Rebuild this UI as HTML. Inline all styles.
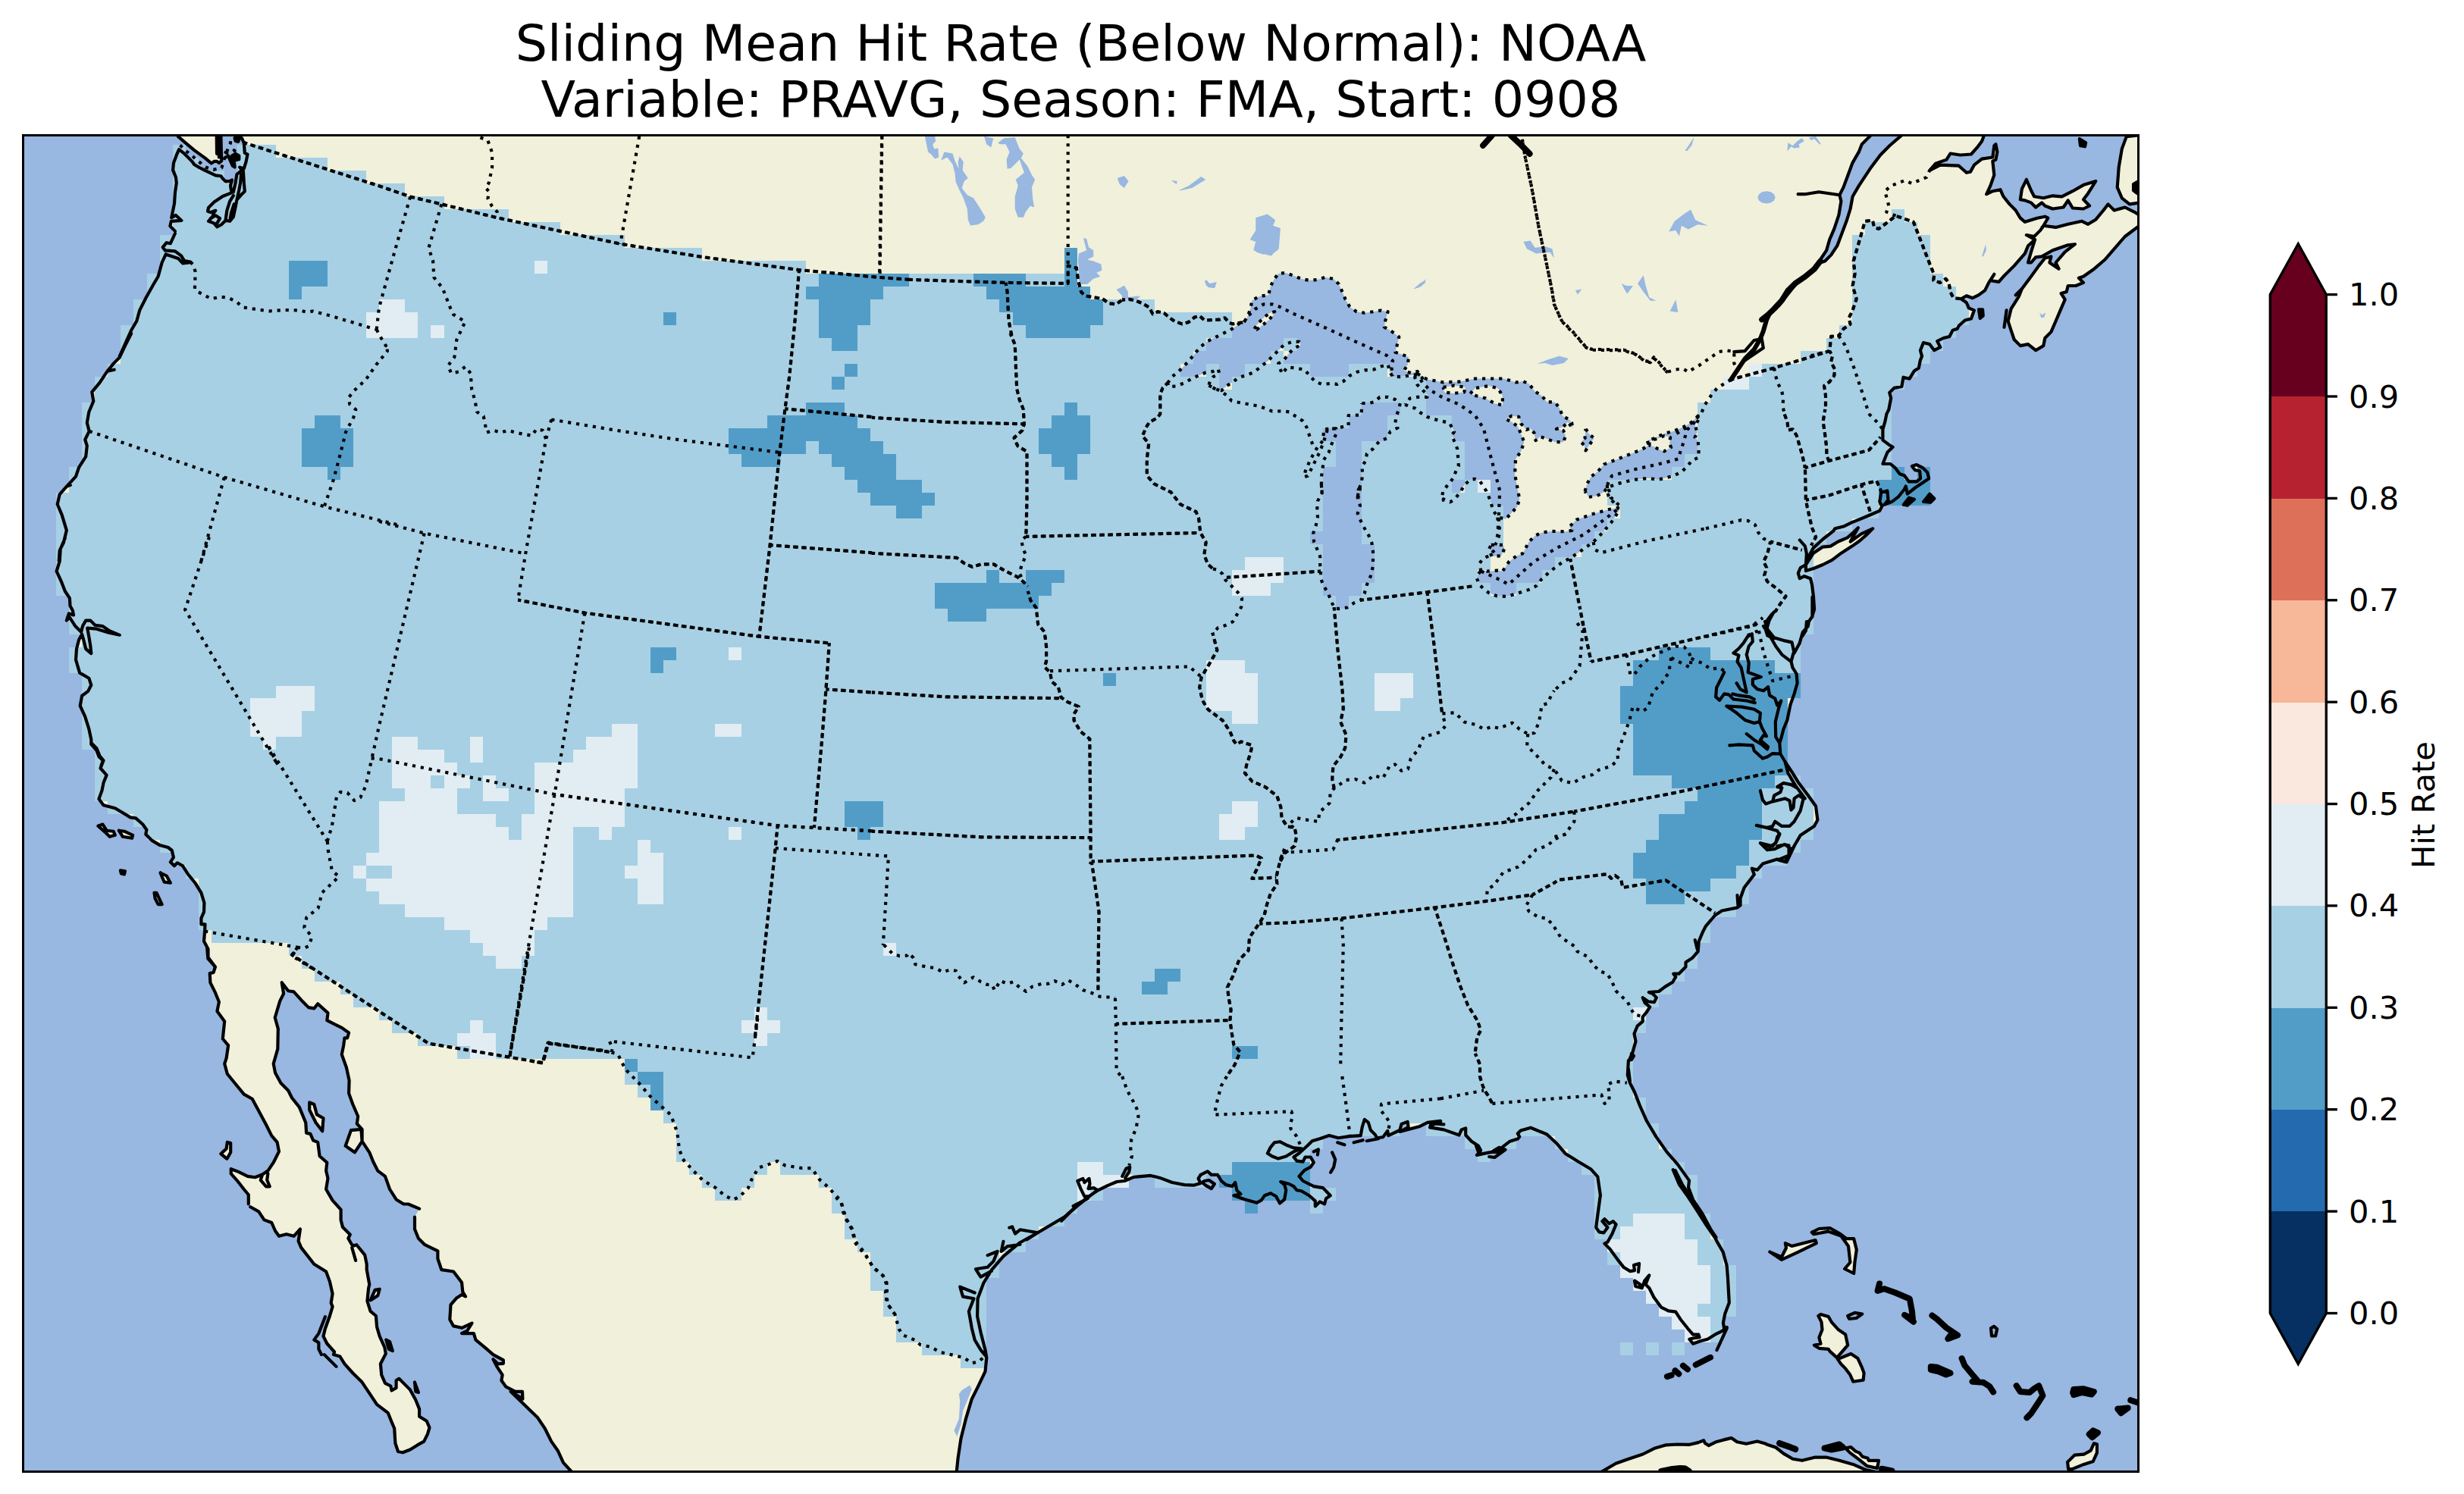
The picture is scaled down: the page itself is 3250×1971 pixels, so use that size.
<!DOCTYPE html>
<html lang="en"><head><meta charset="utf-8"><title>Sliding Mean Hit Rate (Below Normal): NOAA</title>
<style>
html,body{margin:0;padding:0;background:#fff;}
body{width:3250px;height:1971px;overflow:hidden;position:relative;font-family:"DejaVu Sans","Liberation Sans",sans-serif;color:#000;}
svg{position:absolute;left:0;top:0;}
text{font-family:"DejaVu Sans","Liberation Sans",sans-serif;fill:#000;}
.c{fill:none;stroke:#000;stroke-width:4.17;stroke-linejoin:round;stroke-linecap:round;}
.b{fill:none;stroke:#000;stroke-width:4.17;stroke-dasharray:4.17 6.88;stroke-linejoin:round;}
.b2{fill:none;stroke:#000;stroke-width:4.17;stroke-dasharray:4.17 6.88;stroke-dashoffset:2.6;stroke-linejoin:round;}
.o{fill:#98b7e1;stroke:none;}
.l{fill:#f0f0db;stroke:none;}
.k{fill:#000;stroke:#000;stroke-width:4.17;stroke-linejoin:round;stroke-linecap:round;}
</style></head><body>
<svg xmlns="http://www.w3.org/2000/svg" width="3250" height="1971" viewBox="0 0 3250 1971">
<defs><clipPath id="ax"><rect x="30.5" y="178.5" width="2790.0" height="1763.0"/></clipPath></defs>
<rect x="0" y="0" width="3250" height="1971" fill="#fff"/>
<g clip-path="url(#ax)">
<rect x="30.5" y="178.5" width="2790.0" height="1763.0" fill="#f0f0db"/>
<path class="o" d="M25.5,173.5 234.7,173.5 234.7,179.8 244,187.8 256.2,198.1 270.3,208.4 278.7,215.4 282.5,212.9 286.2,212.9 289,215 292.3,212.2 291.8,198.1 291.4,179.8 291.4,173.5 310.6,173.5 310.6,179.8 319,182.2 321.8,188.7 321.8,188.7 322.8,201.9 326.5,203.7 324.6,213.1 321.8,222.5 316.2,220.6 320.9,226.2 321.8,241.2 322.8,252.5 318.1,257.1 312.4,263.7 310.6,273.1 307.8,286.2 303.1,291.8 297.5,290.9 291.8,296.5 286.2,299.3 282.5,294.6 275,291.8 280.6,285.3 281.5,281.5 284.3,277.8 277.8,280.1 274,278.7 275,274 282.5,266.5 293.7,259 307.8,253.4 305,251.5 304,245 305.9,237.5 305.9,237.5 303.1,238.9 297.5,239.3 293.7,235.6 291.4,232.3 284.3,231.4 273.1,226.2 262.8,221.1 256.2,216.9 253.4,213.1 248.7,208.4 242.2,201.9 236.1,197.2 236.1,197.2 232.8,204.7 229,215 228.1,224.4 231.9,233.7 232.8,241.2 230.9,254.3 230,268.4 227.2,282.4 226.2,287.1 231.9,283.9 239.4,290.9 225.8,291.8 224.4,298.4 230.9,304.9 230.9,308 224.8,321.2 219.7,320.2 214.7,326.2 217.7,330.3 217.7,330.3 230.9,331.3 239,337.4 243.1,344.1 251.2,345.5 251.2,346.1 241,347.4 235,340.9 218.7,335.4 218.7,335.4 213.6,346.5 208.6,364.8 202.5,375 192.3,393.2 184.2,409.4 180.2,423.7 173.1,435.8 157.8,469.9 173.1,440 163.9,458.3 157.8,471.5 149.7,479.6 141.6,489.7 131.5,504.9 121.3,517.1 123.3,529.3 117.3,543.5 114.8,557.7 117.7,568.9 112.2,580 114.8,588.1 113.2,602.3 104.1,616.5 100,628.7 87.8,641.9 78.7,652.1 75.7,665.2 81.7,679.4 87.8,699.7 83.8,716 78.7,726.1 77.7,739.9 85.8,710 79.7,724.2 78.7,740.4 74.6,753.6 80.7,766.8 85.8,780 91.9,789.1 92.5,799.3 95.9,805.4 97,811.5 90.9,809.4 87.8,818.6 91.9,814.5 99,825.7 107.1,833.8 107.1,833.8 109.1,825.7 113.2,818.6 119.3,818.6 125.4,824.7 135.5,826.1 143.6,831.8 157.8,837.8 143.6,834.8 127.4,829.7 115.2,828.7 117.3,839.9 119.3,852 120.3,862.2 113.2,856.1 110.2,843.9 108.1,836.8 108.1,836.8 104.1,843.9 101,856.1 100,870.3 105.1,887.6 117.3,894.7 120.3,903.8 116.2,911.9 108.1,918 105.7,931.2 112.2,945.4 117.3,961.6 120.3,975.8 120.3,981.9 127.4,990 130.4,998.1 135.9,1003.2 133.5,1009.9 120.3,980 127.4,987.1 131.5,997.2 136.5,1003.3 132.5,1013.5 140.6,1022.6 136.5,1032.8 134.5,1042.9 130.4,1054.1 136.5,1062.2 151.8,1066.2 161.9,1072.3 172,1078.4 179.1,1079.4 188.3,1087.5 193.4,1094.7 192.3,1100.7 200.5,1108.9 210.6,1114.9 221.8,1118 226.8,1122 228.9,1131.2 224.8,1137.3 229.9,1142.3 233.9,1138.3 241,1142.3 248.1,1153.5 257.3,1164.7 265.4,1177.8 269.4,1191 269,1203.2 265.4,1211.3 265.4,1219.4 270.5,1219.4 270.1,1228.6 270.1,1228.6 269,1241.8 274.5,1251.9 274.5,1263.1 283.7,1275.3 282.6,1279.9 273.1,1250 274.3,1264.6 284,1275.6 281.6,1282.9 276.7,1284.1 277.4,1296.3 284,1309.7 288.9,1321.8 286.4,1334 296.2,1347.4 293.8,1370.5 301.1,1379.1 298.6,1396.1 296.2,1403.4 299.8,1416.8 310.8,1430.2 321.8,1443.6 332.7,1449.7 341.2,1465.5 351,1483.8 358.3,1498.4 365.6,1506.9 368,1519.1 360.7,1533.7 353.4,1544.6 346.1,1549.5 336.4,1553.2 326.6,1551.9 314.4,1545.9 304.7,1542.2 304.7,1548.3 313.2,1558 321.8,1569 327.8,1576.3 327.8,1588.5 330.3,1592.3 341.2,1598.4 348.5,1609.4 358.3,1613 363.1,1624 368,1630.8 377.8,1628.3 387.5,1630.8 396,1621.5 393.6,1637.4 397.2,1645.9 414.3,1667.8 430.1,1677.5 435,1690.9 438.6,1706.8 436.7,1718.9 438.6,1723.8 435,1736 428.9,1753 426.5,1762.8 431.3,1772.5 441.1,1783.5 439.9,1787.1 448.4,1789.5 454.5,1799.3 465.4,1811.5 477.6,1823.6 487.3,1838.2 497.1,1852.9 511.7,1863.8 516.6,1876 520.2,1884.5 521.4,1904 525.1,1915 531.2,1916.2 540.9,1912.5 550.6,1906.4 559.2,1901.6 564,1891.8 566.5,1883.3 562.8,1874.8 553.1,1868.7 553.1,1858.9 548.2,1846.8 540.9,1833.4 532.4,1824.9 526.3,1818.8 522.6,1821.2 522.6,1830.9 516.6,1834.6 515.3,1828.5 508,1824.9 503.2,1813.9 501.9,1799.3 508.8,1785.9 507.3,1777.4 500.7,1762.8 497.1,1750.6 495.9,1736 488.6,1729.9 484.4,1716.5 486.1,1699.4 487.3,1694.6 483.7,1675.1 483.7,1667.8 481.2,1655.6 470.3,1642.2 466.6,1643.4 464.2,1642.2 459.3,1633.7 461.8,1628.8 452,1619.1 449.6,1609.4 449.6,1597.2 449.6,1595.8 438.6,1583.6 430.1,1569 432.5,1554.4 430.1,1544.6 431.3,1533.7 421.6,1525.2 419.2,1506.9 413.1,1504.5 409.4,1495.9 404.1,1494.7 403.3,1481.3 394.8,1460.6 385.1,1448.5 380.2,1438.7 370.5,1429 363.1,1415.6 360.7,1403.4 366.3,1383.9 366.8,1357.1 362.7,1342.5 369.2,1320.6 374.1,1310.9 371.7,1296.3 371.7,1296.3 380.2,1307.2 387.5,1308.4 399.7,1321.8 407,1329.1 414.3,1330.4 419.2,1324.3 432.5,1336.4 431.3,1346.2 441.1,1351.1 450.8,1355.9 460.1,1362.5 458.1,1369.3 454.5,1369.3 453.2,1379.1 450.8,1391.2 456.9,1408.3 460.6,1425.3 460.1,1442.4 465.4,1457 472.2,1472.8 470.8,1482.5 477.6,1489.9 477.6,1505.7 487.3,1520.3 492.2,1532.5 498.3,1544.6 508,1551.9 514.1,1569 522.6,1582.4 532.4,1588.5 538.5,1588.5 553.1,1594.6 547,1605.7 547,1621.5 551.9,1633.7 560.4,1642.2 577.4,1650.3 577.4,1660.5 582.3,1675.1 598.1,1677.5 609.1,1692.1 610.3,1704.3 614,1710.4 609.1,1708 601.8,1712.8 594.5,1721.4 593.3,1740.8 598.1,1749.4 609.1,1751.8 622.5,1745.7 616.4,1755.5 609.1,1759.1 624.9,1759.1 627.4,1767.6 640.7,1778.6 650.5,1787.1 663.9,1794.4 663.9,1798.8 656.6,1799.3 650.5,1793.2 655.4,1802.9 662.7,1813.9 661.4,1821.2 667.5,1829.7 679.7,1835.8 689,1835.8 689.4,1845.6 673.6,1835.8 708.9,1869.9 718.7,1884.5 727.2,1901.6 735.7,1913.7 743,1929.6 754,1941.7 759,1946.5 25.5,1946.5Z"/>
<path class="o" d="M1261.6,1946.5 1261.6,1943.1 1263.6,1923.6 1267.5,1897.7 1274,1871.7 1281.8,1845.7 1289.6,1830.1 1299.5,1809.4 1301.3,1791.2 1301.3,1791.2 1299.5,1780.8 1293.5,1757.4 1289.1,1736.6 1289.6,1713.2 1297.4,1692.5 1307.8,1675.6 1323.4,1657.4 1345.5,1639.2 1368.8,1626.2 1403.9,1605.5 1415.6,1595.1 1445.5,1571.7 1460.9,1564.1 1473.1,1559 1483.2,1558 1495.4,1552.9 1517.7,1550.9 1529.9,1553.9 1546.1,1560 1562.3,1563.1 1574.5,1563.7 1583.6,1561 1580.6,1554.9 1583.6,1549.9 1592.8,1545.4 1597.8,1549.9 1606,1549.9 1611,1558 1617.1,1563.1 1625.2,1565.1 1629.3,1560 1631.3,1570.2 1636.4,1575.2 1627.3,1577.3 1641.5,1582.3 1657.7,1586.8 1663.8,1583.4 1667.9,1577.3 1676,1574.2 1683.1,1578.3 1688.1,1587.4 1694.2,1582.3 1696.3,1570.2 1694.2,1563.1 1689.2,1559 1700.3,1562 1706.4,1565.1 1710.5,1570.2 1716.6,1571.2 1726.7,1577.3 1734.8,1584.4 1734.8,1591.5 1740.9,1585.4 1747,1588.4 1749,1581.3 1754.7,1577.3 1745,1567.1 1732.8,1565.1 1718.6,1558 1713.5,1551.9 1720.6,1543.8 1728.7,1539.7 1732.8,1533.6 1728.7,1526.5 1721.6,1526.5 1718.6,1532.6 1710.5,1531.6 1706.4,1526.5 1713.5,1521.5 1724.7,1511.3 1730.8,1505.2 1740.9,1502.2 1753.1,1498.1 1765.3,1501.2 1779.5,1499.1 1794.7,1498.1 1796.7,1487 1799.8,1476.8 1804.8,1480.9 1807.9,1491 1814,1497.1 1816,1501.2 1824.1,1500.2 1830.2,1492 1831.2,1498.1 1846.4,1491 1848.5,1482.9 1856.6,1479.9 1857.6,1487 1846.4,1493.1 1872.8,1485.9 1883,1480.9 1900,1478.8 1900.3,1479.3 1888.1,1480.3 1886.1,1487.4 1904.4,1490.4 1924.6,1497.5 1927.7,1490.4 1933.2,1488.4 1933.2,1497.5 1940.9,1505.7 1950,1511.8 1953.1,1517.8 1948,1523.9 1957.1,1521.9 1967.3,1519.9 1975.4,1519.9 1983.5,1511.8 1991.6,1505.7 2001.8,1502.6 2004.2,1499.6 2001.8,1495.5 2005.8,1491.5 2019,1487.8 2040.3,1496.5 2052.5,1507.7 2064.7,1521.9 2080.9,1532 2098.1,1542.2 2107.3,1552.3 2110.9,1576.7 2107.3,1603.1 2105.2,1619.3 2109.3,1625.4 2115.4,1626.4 2120.5,1619.3 2113.4,1611.2 2116.4,1608.1 2122.5,1614.2 2127.6,1611.2 2131.6,1615.2 2126.6,1627.4 2120.5,1638.6 2116.4,1640.6 2123.5,1647.7 2133.7,1661.9 2141.8,1672.1 2149.9,1677.1 2156,1676.1 2155,1669 2162.1,1667 2161,1678.1 2163.3,1694.5 2156,1689.6 2157.2,1696.9 2165.7,1699.3 2169.3,1689.6 2175.3,1682.4 2170.5,1694.5 2175.3,1699.3 2181.3,1711.3 2191,1724.6 2200.6,1729.4 2210.2,1730.6 2216.3,1740.2 2225.9,1752.3 2233.1,1760.7 2240.4,1760.7 2241.6,1764.3 2233.1,1765.5 2228.3,1766.7 2233.1,1772.8 2242.8,1769.2 2252.4,1766.7 2262,1760.7 2271.7,1755.9 2277.7,1751.1 2277.7,1751.1 2274.1,1752.3 2272.9,1745.1 2275.3,1733 2280.8,1718.6 2278.9,1684.8 2277.7,1670 2272.7,1651.8 2264.5,1637.6 2257.4,1623.4 2245.3,1601 2233.1,1582.8 2227,1566.5 2228,1557.4 2212.8,1536.1 2198.6,1519.9 2184.4,1499.6 2172.2,1479.3 2163.1,1459 2156,1440.7 2149.9,1428.6 2146.8,1418.4 2147.9,1399.1 2151.9,1398.1 2155,1393 2151.9,1390 2148.4,1399.9 2153.5,1388.1 2157.5,1373.9 2155.5,1363.8 2159.6,1353.7 2166.7,1347.6 2166.7,1341.5 2171.8,1335.4 2176.2,1328.3 2169.7,1323.2 2166.7,1316.1 2173.8,1321.2 2181.9,1322.2 2184.9,1316.1 2179.9,1311 2174.8,1309 2188,1308 2196.1,1301.9 2206.2,1295.8 2210.3,1288.7 2207.3,1284.7 2214.4,1284.7 2223.5,1275.5 2223.5,1269.4 2232.6,1263.4 2239.7,1255.2 2240.7,1242 2245.8,1229.9 2249.9,1221.8 2262.1,1207.5 2271.2,1201.5 2291.5,1197.4 2295.5,1194.4 2295.5,1185.2 2300.6,1171 2313.8,1153.8 2310.8,1145.7 2317.9,1147.7 2325,1139.6 2344.2,1133.5 2354.4,1136.5 2359.5,1128.4 2359.5,1128.4 2367.6,1114.2 2374.7,1102.1 2392.9,1089.9 2397.4,1081.8 2395,1063.5 2384.8,1049.3 2372.6,1033.1 2362.5,1016.8 2354.4,1004.7 2348.3,994.5 2348.3,994.5 2347.3,980.3 2347.3,980.3 2349.3,974.2 2352.4,962 2357.4,949.9 2361.5,929.6 2366.6,915.4 2370.6,901.2 2369.6,889 2364.5,880.9 2362.5,872.8 2365.5,861.6 2365.5,861.6 2366.6,861.6 2366.6,861.6 2373.7,848.4 2377.7,834.2 2384.8,826.1 2385.8,820 2385.8,820 2390,813.9 2393.1,803.8 2392,787.6 2390,771.3 2388,763.2 2379.9,760.2 2373.8,763.2 2371.8,756.1 2374.8,749 2381.9,745 2382.9,738.9 2392,722.6 2404.2,711.5 2418.4,700.3 2420.5,697.3 2432.6,694.2 2442.8,689.1 2452.9,685.1 2465.1,680 2479.3,673.9 2482.3,667.8 2479.3,661.8 2481.3,649.6 2489.4,647.5 2490.5,659.7 2485.4,665.8 2495.5,661.8 2503.7,655.7 2511.8,645.5 2513.8,641.5 2515.8,651.6 2526,643.5 2538.1,635.4 2544.2,631.3 2542.2,623.2 2536.1,617.1 2528,613.1 2521.9,615.1 2526,620.2 2532.1,621.2 2533.1,631.3 2528,635.4 2517.9,635.4 2511.8,627.3 2505.7,625.2 2499.6,617.1 2493.5,612 2483.4,612 2489.4,596.8 2496.6,589.7 2491.5,586.7 2483.4,580.6 2483.4,566.4 2486.4,556.2 2488.4,546.1 2491.5,540 2491.4,539.9 2494.2,525.1 2492.2,518 2498.3,511.9 2508.4,509.9 2510.5,497.7 2518.6,499.7 2524.7,489.6 2530.8,485.5 2532.8,475.4 2535,469.9 2535,469.9 2532.9,462.2 2537,452.1 2545.1,454.1 2551.2,462.2 2559.3,458.1 2555.2,450 2563.4,446 2571.5,443.9 2575.5,435.8 2581.6,433.8 2583.7,429.7 2591.8,422.6 2599.9,420.6 2603.9,409.4 2596.8,406.4 2593.8,399.3 2586.7,394.2 2586.7,394.2 2593.8,390.2 2601.9,393.2 2610,389.2 2618.1,383.1 2623.2,372.9 2630.3,361.8 2625.3,369.9 2630.3,370.9 2636.4,371.9 2642.5,364.8 2656.7,350.6 2670.9,334.4 2675,324.2 2684.1,316.1 2679,332.3 2675,346.5 2679,346.5 2685.1,339.4 2693.2,338.4 2707.4,330.3 2727.7,323.2 2736.9,322.2 2723.7,332.3 2711.5,346.5 2715.6,354.7 2703.4,346.5 2705.4,338.4 2697.3,340.5 2689.2,350.6 2679,364.8 2666.9,381 2662.8,391.2 2652.6,407.4 2648.6,423.7 2652.6,435.8 2656.7,448 2664.8,456.1 2675,454.1 2685.1,462.2 2695.3,456.1 2697.3,446 2705.4,437.9 2711.5,423.7 2717.6,409.4 2723.7,395.2 2718.6,387.1 2725.7,385.1 2727.7,377 2737.9,377 2748,372.9 2741.9,366.8 2748,364.8 2762.2,354.7 2776.4,342.5 2788.6,328.3 2802.8,312 2823.1,296.8 2825.5,296.8 2825.5,1946.5Z"/>
<path class="o" d="M2825.5,284.7 2823.1,284.7 2815,279.6 2802.8,273.5 2788.6,277.5 2780.5,269.4 2774.4,277.5 2764.3,289.7 2754.1,295.8 2746,291.8 2727.7,295.8 2711.5,299.9 2695.3,297.8 2701.3,287.7 2697.3,285.7 2687.1,287.7 2670.9,292.8 2664.8,287.7 2658.7,277.5 2650.6,269.4 2642.5,259.3 2638.4,250.2 2628.3,252.2 2620.2,256.2 2625.3,245.1 2630.3,230.9 2628.3,212.6 2632.4,210.6 2634.4,200.4 2632.4,190.3 2630.3,192.3 2628.3,207.5 2614.1,209.6 2603.9,217.7 2598.9,226.8 2593.8,227.8 2583.7,218.7 2559.3,217.7 2545.1,224.8 2553.2,215.7 2567.4,210.6 2572.5,202.5 2585.7,204.5 2599.9,203.5 2608,194.4 2614.1,186.2 2617.1,178.1 2617.1,173.5 2825.5,173.5Z"/>
<path class="o" d="M2468,173.5 2468,178.1 2455.8,190.3 2451.8,200.4 2443.6,214.6 2437.5,230.9 2431.5,247.1 2426.4,257.3 2428.4,265.4 2425.4,283.6 2419.3,301.9 2413.2,316.1 2409.1,330.3 2401,342.5 2401,346.5 2407.1,344.5 2415.2,336.4 2423.3,324.2 2429.4,308 2435.5,291.8 2440.6,275.5 2443.6,259.3 2451.8,245.1 2459.9,232.9 2468,220.7 2480.2,204.5 2492.3,192.3 2508.6,178.1 2508.6,173.5Z"/>
<path class="l" d="M129.4,1089.6 135.5,1087.5 140.6,1095.7 149.7,1096.7 151.8,1101.8 144.7,1103.8 139.6,1098.7Z"/>
<path class="l" d="M156.8,1095.7 163.9,1096.7 175.1,1101.8 174.1,1105.8 161.9,1103.8Z"/>
<path class="l" d="M158.9,1148.4 164.9,1149.4 163.9,1153.5 159.9,1152.5Z"/>
<path class="l" d="M211.6,1151.5 219.7,1155.5 224.8,1164.7 216.7,1163.6 213.6,1156.5Z"/>
<path class="l" d="M203.5,1177.8 206.5,1177.8 213.6,1193.1 208.6,1193.1 204.5,1185Z"/>
<path class="l" d="M408.2,1454.5 414.3,1457 417.9,1470.4 426.5,1475.2 425.2,1492.3 416.7,1481.3 408.2,1464.3Z"/>
<path class="l" d="M463,1491.1 476.4,1489.9 477.6,1505.7 467.9,1520.3 455.7,1511.8Z"/>
<path class="l" d="M299.8,1506.9 304.2,1508.1 304.2,1520.3 299.4,1528.8 291.3,1522.2 298.6,1515.4Z"/>
<path class="l" d="M488.6,1715.3 494.6,1701.9 500.7,1700.7 498.3,1709.2 491,1714.1Z"/>
<path class="l" d="M509.3,1767.6 514.1,1770.1 517.8,1782.2 512.9,1779.8Z"/>
<path class="l" d="M547,1823.6 551.9,1837 548.2,1835.8Z"/>
<path class="l" d="M2672.9,237 2679,251.2 2683.1,259.3 2695.3,261.3 2707.4,258.3 2719.6,259.3 2733.8,252.2 2748,244.1 2764.3,239 2754.1,255.2 2748,263.3 2756.1,271.5 2748,275.5 2733.8,274.5 2727.7,264.4 2721.6,273.5 2707.4,275.5 2697.3,271.5 2693.2,267.4 2685.1,273.5 2679,267.4 2670.9,264.4 2664.8,263.3 2666.9,249.1Z"/>
<path class="l" d="M2804.8,180.1 2798.8,196.4 2794.7,220.7 2792.7,247.1 2798.8,261.3 2808.9,269.4 2823.1,267.4 2823.1,178.1Z"/>
<path class="l" d="M2334.3,1651.6 2350,1661.9 2370.5,1652.3 2395.8,1640.2 2394.6,1636.1 2363.3,1643.9 2354.8,1640.2 2356,1646.3 2350,1658.3Z"/>
<path class="l" d="M2389.8,1625.8 2399.4,1621 2413.9,1620.2 2425.9,1627 2435.5,1634.2 2445.2,1634.2 2448.8,1648.7 2446.4,1665.5 2445.2,1680 2433.1,1674 2440.4,1665.5 2438,1643.9 2428.3,1630.6 2411.4,1624.6 2392.2,1628.2Z"/>
<path class="l" d="M2398.4,1736 2401.5,1733.9 2411.7,1737 2415.7,1744.1 2424.9,1754.3 2434.1,1760.4 2437.2,1774.7 2422.9,1791.1 2413.7,1782.9 2411.7,1779.8 2399.4,1778.8 2392.9,1774.7 2401.5,1772.7 2399.4,1764.5 2403.5,1754.3 2402.5,1744.1Z"/>
<path class="l" d="M2423.9,1793.1 2441.3,1786 2450.4,1792.1 2455.6,1803.3 2458.6,1811.5 2457.6,1820.7 2444.3,1822.7 2440.2,1813.5 2434.1,1805.4 2428,1799.2Z"/>
<path class="l" d="M2727.1,1928.9 2736.3,1919.7 2748.5,1918.7 2757.7,1913.6 2761.8,1904.4 2765.9,1905.4 2765.9,1916.6 2760.8,1927.9 2748.5,1931.9 2733.2,1938.1 2728.1,1938.1Z"/>
<path class="l" d="M2434.1,1910.5 2441.3,1909.1 2447.4,1914.6 2452.5,1916.6 2456.6,1921.7 2463.7,1923.8 2464.7,1926.8 2478,1926.8 2476,1937 2462.7,1934 2452.5,1925.8 2440.2,1916.6Z"/>
<path class="l" d="M2103.6,1946.1 2114.9,1940.4 2131.2,1930.7 2147.4,1925 2166.9,1918.5 2183.1,1910.4 2197.7,1906.3 2212.3,1905.5 2228.6,1905.8 2239.9,1903.1 2247.2,1900.3 2248.9,1903.9 2253.7,1907.1 2262.7,1902.6 2274,1899.4 2283.8,1897.1 2291.1,1902.3 2303.2,1904.7 2317.9,1901.5 2329.2,1904.7 2330,1905.4 2342.2,1909.5 2352.5,1917.6 2364.7,1924.8 2377,1926.8 2393.3,1922.7 2409.6,1922.7 2426,1926.8 2444.3,1931.9 2460.7,1939.1 2472.9,1941.7 2477,1950.3Z"/>
<path class="l" d="M2381.9,753.1 2392,750 2404.2,745 2416.4,738.9 2428.6,729.7 2442.8,720.6 2452.9,713.5 2461,706.4 2470.2,697.3 2455,704.4 2440.7,714.5 2442.8,710.5 2450.9,696.2 2444.8,702.3 2436.7,709.4 2424.5,714.5 2414.4,720.6 2404.2,721.6 2392,729.7 2381.9,745Z"/>
<path class="o" d="M1952.5,753.7 1947.4,761.8 1951.5,771.9 1963.6,782.1 1973.8,786.1 1988,787.1 2000.2,783.1 2016.4,778 2026.5,772.9 2033.6,763.8 2044.8,753.7 2061,741.5 2071.2,736.4 2087.4,725.2 2101.6,715.1 2109.7,707 2117.9,697.8 2125,689.7 2131,680.6 2136.1,672.5 2133.1,670 2119.9,672.5 2099.6,678.6 2079.3,685.7 2070.2,694.8 2073.2,699.9 2065.1,701.3 2044.8,700.9 2032.6,702.9 2024.5,707 2016.4,715.1 2012.3,723.2 2008.3,730.3 2000.2,733.4 1990,741.5 1981.9,753.7 1975.8,752.6 1961.6,753.7 1954.5,751.6Z"/>
<path class="o" d="M1966.7,718.8 1982.9,718.8 1984.3,724.2 1979.9,733.4 1967.7,733.8 1963.6,725.2Z"/>
<path class="o" d="M2090.5,648.1 2093.5,638 2098.6,628.9 2107.7,621.8 2115.8,612.6 2134.1,605.5 2154.4,597.4 2166.6,592.3 2174.7,587.3 2172.6,581.2 2182.8,578.1 2195,572 2207.1,569 2221.3,562.9 2231.5,556.8 2239.6,548.7 2242.7,550.7 2235.6,560.9 2238.6,570 2235.6,577.1 2239.6,581.2 2240.6,593.3 2240.6,603.5 2231.5,607.5 2225.4,615.7 2217.3,622.8 2207.1,627.8 2186.9,632.9 2174.7,630.9 2154.4,632.9 2134.1,638 2119.9,643.1 2115.8,649.1 2105.7,654.6 2095.5,655.8Z"/>
<path class="o" d="M2091.5,565.9 2096.6,573.1 2102.6,578.1 2097.6,585.2 2091.5,594.4 2089.4,587.3 2085.4,583.2 2090.5,578.1Z"/>
<path class="o" d="M1540.1,505.3 1546.6,496.4 1554.7,489.9 1562.8,481.8 1570.1,473.7 1577.4,464.7 1584.7,456.6 1592.8,450.1 1602.6,445.3 1612.3,440.4 1622.9,435.5 1631.8,429 1635.8,425.8 1640.7,425 1645.6,417.7 1649.6,406.3 1651.3,396.6 1661,390.9 1673.2,389.3 1675.6,378.7 1679.7,369.8 1686.2,360.8 1695.9,360 1707.3,364.1 1717,368.1 1726.8,369.8 1738.1,369 1747.9,365.7 1759.2,368.1 1765.7,374.6 1770.6,385.2 1774.6,394.9 1780.3,404.7 1789.3,411.2 1799.8,412.8 1811.2,411.2 1821.7,409.5 1830.6,411.2 1827.4,422.5 1825.8,431.5 1835.5,437.1 1845.3,444.4 1842.8,455 1840.4,464.7 1850.1,468 1858.2,471.2 1856.6,481 1851.8,489.1 1861.5,492.3 1869.6,489.9 1874.5,497.2 1876.1,498.8 1869.6,494 1858.2,495.6 1846.9,497.2 1836.3,496.4 1833.1,489.9 1830.6,481 1821.7,483.4 1812,487.5 1800.6,488.3 1790.1,490.7 1780.3,495.6 1772.2,502.9 1764.1,506.9 1754.4,506.1 1743.8,506.9 1734.9,503.7 1727.6,495.6 1720.3,487.5 1708.9,485.8 1698.3,484.2 1691,493.1 1688.6,486.7 1686.2,479.4 1692.7,476.1 1699.2,467.2 1706.5,459.9 1715.4,455 1713.8,450.9 1704,450.9 1693.5,455 1685.4,463.1 1678.9,469.6 1671.6,476.9 1663.4,483.4 1654.5,490.7 1644.8,494.8 1634.2,498 1625.3,504.5 1616.4,510.2 1611.5,515.1 1603.4,513.4 1594.4,508.6 1596.1,502.1 1600.1,497.2 1608.2,492.3 1606.6,486.7 1600.1,489.9 1590.4,491.5 1580.6,495.6 1571.7,499.6 1562,505.3 1551.4,509.4 1541.7,510.2Z"/>
<path class="o" d="M1796.4,532 1804.5,532 1812.7,530.4 1820,523.9 1830.5,523.9 1840.3,527.1 1846.8,532 1845.1,540.1 1841.9,548.2 1840.3,558 1843.5,564.5 1833.8,569.4 1828.9,578.3 1819.2,582.3 1811,592.1 1802.9,598.6 1801.3,608.3 1796.4,614.8 1797.2,626.2 1795.6,637.5 1791.6,647.3 1790.7,659.9 1794.8,640 1791.6,646.5 1790.7,656.2 1794,666.8 1790.7,677.3 1794.8,687.1 1799.7,696.8 1805.4,706.6 1809.4,716.3 1811,727.7 1811,747.1 1807.8,760.1 1802.9,771.5 1799.7,782.9 1794.8,791.8 1786.7,795 1776.9,801.5 1765.6,803.1 1759.9,802.3 1755.8,792.6 1751.8,782.9 1746.1,773.1 1742,763.4 1742,753.6 1741.2,745.5 1741.2,734.2 1737.2,724.4 1733.1,714.7 1732.3,703.3 1735.6,693.6 1738,682.2 1737.2,672.5 1738,661.1 1743.7,649.7 1742.9,640 1743.7,650.5 1742.9,640.8 1742.9,629.4 1744.5,618.1 1746.1,606.7 1752.6,596.9 1755.8,587.2 1762.3,572.6 1762.3,565.3 1746.1,566.1 1745.3,580.7 1736.4,592.1 1728.2,606.7 1721.8,621.3 1720.1,629.4 1725,627.8 1733.1,611.6 1741.2,595.3 1746.1,582.3 1751,566.1 1762.3,565.3 1778.6,561.2 1778.6,548.2 1795.6,547.4Z"/>
<path class="o" d="M1853.2,533.6 1859.7,536.9 1866.2,538.5 1874.4,545 1882.5,549.9 1892.2,553.1 1901.9,555.6 1911.7,558 1918.2,569.4 1914.9,574.2 1918.2,582.3 1922.2,592.1 1923.1,603.4 1923.9,614.8 1919.8,622.9 1916.6,631 1910.1,639.2 1903.6,647.3 1901.9,655.4 1903.6,659.9 1903.8,658.3 1912.9,662.3 1919,658.3 1927.1,648.1 1931.2,640 1939.3,632.9 1945.4,631.9 1951.5,633.9 1960.6,648.1 1965.7,660.3 1969.7,674.5 1976.8,682.6 1986,684.7 1992,678.6 2001.2,668.4 2004.2,658.3 2001.2,642 1998.1,625.8 1999.1,605.5 2006.2,595.4 2010.3,583.2 2007.3,575.1 2002.2,562.9 1994.1,556.8 1986,552.8 1994.1,548.7 2003.2,549.7 2006.2,558.8 2013.4,567 2018.4,564.9 2023.5,571 2025.5,581.2 2031.6,576.1 2040.7,579.1 2050.9,583.2 2062.1,583.2 2065.1,575.1 2062.1,568 2052.9,565.9 2062.1,562.9 2068.1,556.8 2074.2,564.9 2073.2,557.8 2070.2,553.8 2061,548.7 2057,538.6 2050.9,530.4 2040.7,530.4 2033.6,522.3 2024.5,516.2 2016.4,506.1 2008.3,503 2000,504.4 1983.1,499.5 1966.9,499.5 1945.8,499.5 1924.7,503.6 1903.6,504.4 1882.5,500.4 1874.4,496.3 1867.9,491.4 1866.2,497.9 1869.5,507.7 1876,514.2 1882.5,520.6 1882.5,523.9 1869.5,523.9 1859.7,525.5Z"/>
<path class="o" d="M1268.8,1834 1279.2,1827.5 1281.8,1832.7 1276.6,1845.7 1270.1,1861.3 1267.5,1879.5 1262.3,1895.1 1258.4,1887.3 1264.9,1871.7 1266.2,1848.3 1264.9,1839.2Z"/>
<path class="o" d="M2357.4,199.4 2358.4,188.3 2364.5,192.3 2370.6,186.2 2376.7,182.2 2379.7,186.2 2372.6,190.3 2373.6,194.4 2366.5,195.4 2362.5,193.3Z"/>
<path class="o" d="M2385.8,181.2 2394.9,180.1 2402,190.3 2400,190.3 2392.9,183.2 2388.8,185.2Z"/>
<path class="o" d="M2614.1,338.4 2617.1,328.3 2619.2,322.2 2619.8,330.3 2616.1,338Z"/>
<path class="o" d="M2690.2,412.5 2693.2,415.5 2698.3,412.5 2696.3,418.6 2692.2,419.2Z"/>
<path class="o" d="M1653.7,330 1658.6,333.2 1666.7,335.7 1673.2,332.4 1677.2,337.3 1681.3,331.6 1686.2,330Z"/>
<path class="o" d="M1588.8,370.6 1592,369.8 1595.3,374.6 1600.9,375.5 1604.7,371.4 1602.6,379.5 1596.9,379.5 1591.2,377.1Z"/>
<path class="o" d="M1480,377.9 1483.2,377.1 1487.3,385.2 1488.1,391.7 1496.2,392.5 1504.4,390.9 1499.5,394.9 1489.7,394.9 1480,394.1Z"/>
<path class="o" d="M1864.7,381.1 1872.9,373.8 1880,369.8 1880,373 1872.9,378.7Z"/>
<path class="o" d="M1265.7,251.2 1260.6,240 1259.6,228.8 1256.5,216.7 1249.4,207.5 1241.3,211.6 1245.4,200.4 1256.5,202.5 1259.6,212.6 1264.7,222.8 1263.6,213.6 1265.7,206.5 1270.7,213.6 1269.7,224.8 1276.8,234.9 1271.8,239 1268.7,248.1 1275.8,257.3 1283.9,261.3 1292,273.5 1299.8,286.7 1297.1,291.8 1290,296.2 1279.9,297.4 1276.8,289.7 1275.8,275.5 1270.7,261.3Z"/>
<path class="o" d="M1220,180.1 1233.2,180.1 1234.2,186.2 1230.2,190.3 1232.2,196.4 1237.3,195.4 1238.3,207.5 1233.2,209.6 1228.1,203.5 1224.1,200.4 1222,190.3Z"/>
<path class="o" d="M1298.1,180.1 1310.3,182.2 1307.3,194.4 1301.2,190.3Z"/>
<path class="o" d="M1316.4,188.3 1324.5,182.2 1338.7,181.2 1344.8,196.4 1349.9,202.5 1346.8,208.6 1355,218.7 1361,230.9 1365.1,237 1361,247.1 1362.1,261.3 1364.1,273.5 1359,271.5 1352.9,279.6 1349.9,286.7 1342.8,286.7 1338.7,275.5 1338.7,259.3 1342.8,245.1 1339.7,237 1350.9,227.8 1344.8,210.6 1333.6,221.7 1328.6,222.8 1327.6,210.6 1331.6,200.4 1326.5,190.3 1318.4,190.3Z"/>
<path class="o" d="M1429,314.1 1433.1,315.1 1436.1,326.2 1442.2,330.3 1442.2,338.4 1434.1,342.5 1442.2,344.5 1452.4,348.6 1453.4,356.7 1446.3,359.7 1451.3,364.8 1442.2,367.8 1434.1,375 1426,375 1422.9,368.9 1422.9,354.7 1421.9,344.5 1422.9,334.4 1433.1,330.3Z"/>
<path class="o" d="M1472.6,382.1 1482.8,377 1487.9,385.1 1486.9,392.2 1504.1,390.2 1495,394.2 1482.8,393.2Z"/>
<path class="o" d="M1473.7,234.9 1482.8,231.9 1488.5,239 1482.8,248.1 1476.7,243.1Z"/>
<path class="o" d="M1554.8,251.2 1568,245.1 1584.3,232.9 1590.3,237 1572.1,248.1 1557.9,251.2Z"/>
<path class="o" d="M1544.7,238 1552.8,239 1551.8,243.1Z"/>
<path class="o" d="M1589.3,370.9 1596.4,373.9 1604.5,371.9 1601.5,380 1593.4,379Z"/>
<path class="o" d="M1656.3,287.2 1671.5,282.6 1682.2,290.2 1679.1,297.8 1688.9,300.9 1686.7,328.3 1676.1,337.4 1665.4,334.4 1653.3,329.8 1656.3,319.1 1648.7,316.1 1656.3,303.9Z"/>
<path class="o" d="M2009.4,319.1 2018.5,317.6 2024.6,326.8 2038.3,325.2 2047.4,328.3 2049.9,340.5 2044.4,332.8 2026.1,334.4 2014,328.3Z"/>
<path class="o" d="M2201.2,305.5 2208.8,291.8 2220.9,282.6 2230.1,276.5 2236.2,290.2 2252.9,297.8 2239.2,296.3 2227,302.4 2217.9,297.8 2214.9,311.5 2210.3,303.9Z"/>
<path class="o" d="M2341.6,260.4 2340,264.5 2335.8,267.5 2330,268.6 2324.2,267.5 2320,264.5 2318.4,260.4 2320,256.3 2324.2,253.3 2330,252.2 2335.8,253.3 2340,256.3Z"/>
<path class="o" d="M2027.7,479.9 2041.4,474.4 2056.6,469.8 2068.8,472.9 2062.7,478.9 2047.4,482 2038.3,478.9Z"/>
<path class="o" d="M1864.8,381.5 1881.6,367.8 1875.5,377Z"/>
<path class="o" d="M2077.9,383.1 2086.4,381.5 2080.9,388.5Z"/>
<path class="o" d="M2138.8,373.9 2144.8,377 2154,377 2146.4,387.6 2143.3,383.1Z"/>
<path class="o" d="M2160.1,373.9 2167.7,363.3 2170.7,377 2175.3,392.2 2184.4,396.8 2176.8,396.8 2166.2,383.1Z"/>
<path class="o" d="M2202.7,410.5 2210.3,395.2 2213.3,412Z"/>
<path class="o" d="M2222.5,198.9 2234.6,180.7 2231.6,191.3 2225.5,198.9Z"/>
<path class="l" d="M2174.7,587.3 2176.7,581.2 2184.8,579.1 2195,575.1 2203.1,577.1 2202.1,585.2 2204.1,590.3 2195,595.4 2186.9,592.3 2181.8,589.3Z"/>
<path class="l" d="M1654.5,433.9 1658.6,427.4 1666.7,419.3 1674.8,412.8 1681.3,411.2 1680.5,414.4 1673.2,422.5 1665.1,429 1657.8,434.7Z"/>
<path class="l" d="M1939.3,519.3 1945.4,512.2 1963.6,509.1 1975.8,512.2 1981.9,522.3 1981.9,534.5 1971.8,532.5 1959.6,525.4 1947.4,522.3Z"/>
<path class="l" d="M1903.6,510.9 1918.2,508.5 1932.8,510.9 1931.2,517.4 1916.6,519 1905.2,517.4Z"/>
<path fill="#98b7e1" shape-rendering="crispEdges" d="M1796,531h51v17h-51zM1779,548h51v17h-51zM1745,565h85v17h-85zM1762,582h34v17h-34zM1762,599h34v17h-34zM1745,616h51v17h-51zM1745,633h51v17h-51zM1745,650h51v17h-51zM1745,667h51v17h-51zM1745,684h51v17h-51zM1728,701h68v17h-68zM1745,718h68v17h-68zM1745,735h68v17h-68zM1745,752h68v17h-68zM1745,769h51v17h-51zM1762,786h17v17h-17z"/>
<g shape-rendering="crispEdges">
<path fill="#a7d0e4" d="M228,191h17v17h-17zM313,191h51v17h-51zM228,208h34v17h-34zM313,208h119v17h-119zM228,225h68v17h-68zM313,225h170v17h-170zM228,242h306v17h-306zM228,259h358v17h-358zM228,276h443v17h-443zM2495,276h17v17h-17zM228,293h511v17h-511zM2460,293h69v17h-69zM211,310h613v17h-613zM2443,310h103v17h-103zM211,327h715v17h-715zM2443,327h103v17h-103zM211,344h170v17h-170zM432,344h273v17h-273zM722,344h341v17h-341zM2443,344h103v17h-103zM194,361h187v17h-187zM432,361h648v17h-648zM1199,361h85v17h-85zM1353,361h51v17h-51zM2443,361h120v17h-120zM194,378h187v17h-187zM398,378h665v17h-665zM1165,378h136v17h-136zM2443,378h137v17h-137zM176,395h324v17h-324zM534,395h546v17h-546zM1148,395h170v17h-170zM1455,395h68v17h-68zM2443,395h154v17h-154zM176,412h307v17h-307zM551,412h324v17h-324zM892,412h188v17h-188zM1148,412h188v17h-188zM1455,412h170v17h-170zM2443,412h154v17h-154zM159,429h324v17h-324zM551,429h17v17h-17zM586,429h494v17h-494zM1131,429h222v17h-222zM1438,429h187v17h-187zM2426,429h154v17h-154zM159,446h938v17h-938zM1131,446h460v17h-460zM1693,446h18v17h-18zM2409,446h154v17h-154zM159,463h1415v17h-1415zM1676,463h17v17h-17zM2375,463h171v17h-171zM142,480h972v17h-972zM1131,480h426v17h-426zM1591,480h17v17h-17zM1642,480h86v17h-86zM1779,480h51v17h-51zM2324,480h205v17h-205zM125,497h972v17h-972zM1114,497h494v17h-494zM1625,497h256v17h-256zM2307,497h205v17h-205zM125,514h1756v17h-1756zM2256,514h239v17h-239zM108,531h955v17h-955zM1114,531h290v17h-290zM1421,531h375v17h-375zM1847,531h34v17h-34zM2239,531h256v17h-256zM108,548h307v17h-307zM449,548h563v17h-563zM1131,548h256v17h-256zM1438,548h341v17h-341zM1830,548h85v17h-85zM2239,548h256v17h-256zM108,565h290v17h-290zM466,565h495v17h-495zM1148,565h222v17h-222zM1438,565h307v17h-307zM1830,565h85v17h-85zM2239,565h256v17h-256zM108,582h290v17h-290zM466,582h495v17h-495zM1063,582h17v17h-17zM1165,582h205v17h-205zM1438,582h324v17h-324zM1796,582h136v17h-136zM2239,582h256v17h-256zM108,599h290v17h-290zM466,599h512v17h-512zM1029,599h68v17h-68zM1182,599h205v17h-205zM1421,599h341v17h-341zM1796,599h136v17h-136zM2222,599h273v17h-273zM91,616h341v17h-341zM449,616h665v17h-665zM1182,616h222v17h-222zM1421,616h324v17h-324zM1796,616h136v17h-136zM2205,616h290v17h-290zM91,633h1040v17h-1040zM1216,633h529v17h-529zM1796,633h119v17h-119zM1932,633h17v17h-17zM2120,633h358v17h-358zM74,650h1074v17h-1074zM1233,650h512v17h-512zM1796,650h170v17h-170zM2120,650h358v17h-358zM74,667h1108v17h-1108zM1216,667h529v17h-529zM1796,667h187v17h-187zM2137,667h341v17h-341zM74,684h1671v17h-1671zM1796,684h187v17h-187zM2120,684h323v17h-323zM74,701h1654v17h-1654zM1796,701h187v17h-187zM2103,701h306v17h-306zM74,718h1671v17h-1671zM1813,718h153v17h-153zM2086,718h306v17h-306zM74,735h1568v17h-1568zM1693,735h52v17h-52zM1813,735h153v17h-153zM2051,735h341v17h-341zM74,752h1227v17h-1227zM1318,752h35v17h-35zM1404,752h221v17h-221zM1693,752h52v17h-52zM1813,752h136v17h-136zM2034,752h358v17h-358zM74,769h1159v17h-1159zM1387,769h238v17h-238zM1676,769h69v17h-69zM1796,769h170v17h-170zM2000,769h392v17h-392zM91,786h1142v17h-1142zM1370,786h392v17h-392zM1779,786h613v17h-613zM91,803h1159v17h-1159zM1301,803h1091v17h-1091zM91,820h2301v17h-2301zM108,837h2267v17h-2267zM91,854h767v17h-767zM892,854h69v17h-69zM978,854h1210v17h-1210zM2256,854h119v17h-119zM91,871h767v17h-767zM875,871h716v17h-716zM1642,871h512v17h-512zM2341,871h34v17h-34zM108,888h1347v17h-1347zM1472,888h119v17h-119zM1659,888h154v17h-154zM1864,888h290v17h-290zM108,905h256v16h-256zM415,905h1176v16h-1176zM1659,905h154v16h-154zM1864,905h273v16h-273zM108,921h222v17h-222zM415,921h1176v17h-1176zM1659,921h154v17h-154zM1847,921h290v17h-290zM108,938h222v17h-222zM398,938h1227v17h-1227zM1659,938h478v17h-478zM108,955h222v17h-222zM398,955h409v17h-409zM841,955h102v17h-102zM978,955h1176v17h-1176zM108,972h239v17h-239zM364,972h153v17h-153zM551,972h69v17h-69zM637,972h136v17h-136zM841,972h1313v17h-1313zM125,989h392v17h-392zM586,989h34v17h-34zM637,989h119v17h-119zM841,989h1313v17h-1313zM125,1006h392v17h-392zM603,1006h102v17h-102zM841,1006h1313v17h-1313zM125,1023h392v17h-392zM568,1023h18v17h-18zM620,1023h17v17h-17zM654,1023h51v17h-51zM841,1023h1364v17h-1364zM2341,1023h34v17h-34zM125,1040h409v17h-409zM603,1040h34v17h-34zM671,1040h34v17h-34zM824,1040h1415v17h-1415zM2324,1040h68v17h-68zM142,1057h358v17h-358zM603,1057h102v17h-102zM824,1057h290v17h-290zM1165,1057h460v17h-460zM1659,1057h563v17h-563zM2324,1057h68v17h-68zM176,1074h324v17h-324zM654,1074h34v17h-34zM824,1074h290v17h-290zM1165,1074h443v17h-443zM1659,1074h529v17h-529zM2324,1074h68v17h-68zM194,1091h306v17h-306zM671,1091h17v17h-17zM756,1091h34v17h-34zM807,1091h154v17h-154zM978,1091h153v17h-153zM1148,1091h460v17h-460zM1642,1091h546v17h-546zM2324,1091h68v17h-68zM211,1108h289v17h-289zM756,1108h85v17h-85zM858,1108h1313v17h-1313zM2307,1108h68v17h-68zM228,1125h255v17h-255zM756,1125h85v17h-85zM875,1125h1279v17h-1279zM2307,1125h51v17h-51zM245,1142h221v17h-221zM483,1142h34v17h-34zM756,1142h68v17h-68zM875,1142h1279v17h-1279zM2290,1142h34v17h-34zM262,1159h221v17h-221zM756,1159h85v17h-85zM875,1159h1296v17h-1296zM2256,1159h51v17h-51zM262,1176h238v17h-238zM756,1176h85v17h-85zM875,1176h1296v17h-1296zM2222,1176h85v17h-85zM262,1193h272v17h-272zM756,1193h1534v17h-1534zM262,1210h324v17h-324zM722,1210h1534v17h-1534zM279,1227h341v17h-341zM705,1227h1551v17h-1551zM381,1244h256v17h-256zM705,1244h460v17h-460zM1182,1244h1057v17h-1057zM398,1261h256v17h-256zM688,1261h1551v17h-1551zM415,1278h1108v17h-1108zM1557,1278h665v17h-665zM449,1295h1057v17h-1057zM1540,1295h665v17h-665zM466,1312h1722v17h-1722zM500,1329h495v17h-495zM1012,1329h1142v17h-1142zM517,1346h103v17h-103zM637,1346h341v17h-341zM1029,1346h1142v17h-1142zM551,1363h52v17h-52zM654,1363h341v17h-341zM1012,1363h1142v17h-1142zM603,1380h17v17h-17zM654,1380h971v17h-971zM1659,1380h495v17h-495zM841,1397h1313v17h-1313zM824,1414h17v17h-17zM875,1414h1279v17h-1279zM841,1431h17v17h-17zM875,1431h1279v17h-1279zM875,1448h1296v17h-1296zM875,1465h1296v17h-1296zM892,1482h955v17h-955zM1881,1482h307v17h-307zM892,1499h853v17h-853zM1932,1499h68v17h-68zM2051,1499h137v17h-137zM892,1516h836v17h-836zM1949,1516h17v17h-17zM2068,1516h137v17h-137zM909,1533h103v17h-103zM1029,1533h392v17h-392zM1455,1533h170v17h-170zM2086,1533h136v17h-136zM926,1550h69v17h-69zM1080,1550h341v17h-341zM1523,1550h68v17h-68zM2103,1550h136v17h-136zM943,1567h35v17h-35zM1097,1567h324v17h-324zM1438,1567h17v17h-17zM1728,1567h34v17h-34zM2103,1567h136v17h-136zM1097,1584h324v17h-324zM1728,1584h17v17h-17zM2103,1584h136v17h-136zM1114,1601h290v17h-290zM2103,1601h51v17h-51zM2222,1601h34v17h-34zM1114,1618h256v17h-256zM2103,1618h34v17h-34zM2222,1618h34v17h-34zM1131,1635h222v17h-222zM2239,1635h34v17h-34zM1148,1652h170v17h-170zM2120,1652h17v17h-17zM2239,1652h34v17h-34zM1148,1669h170v17h-170zM2256,1669h34v17h-34zM1148,1686h153v17h-153zM2256,1686h34v17h-34zM1165,1703h136v17h-136zM2256,1703h34v17h-34zM1165,1720h136v17h-136zM2239,1720h51v17h-51zM1182,1737h119v17h-119zM2256,1737h17v17h-17zM1182,1754h119v17h-119zM2256,1754h17v17h-17zM1216,1771h85v17h-85zM2137,1771h17v17h-17zM2171,1771h17v17h-17zM2205,1771h17v17h-17zM1267,1788h34v17h-34z"/>
<path fill="#529dc8" d="M1404,327h17v17h-17zM381,344h51v17h-51zM1404,344h17v17h-17zM381,361h51v17h-51zM1080,361h119v17h-119zM1284,361h69v17h-69zM1404,361h17v17h-17zM381,378h17v17h-17zM1063,378h102v17h-102zM1301,378h137v17h-137zM1080,395h68v17h-68zM1318,395h137v17h-137zM875,412h17v17h-17zM1080,412h68v17h-68zM1336,412h119v17h-119zM1080,429h51v17h-51zM1353,429h85v17h-85zM1097,446h34v17h-34zM1114,480h17v17h-17zM1097,497h17v17h-17zM1063,531h51v17h-51zM1404,531h17v17h-17zM415,548h34v17h-34zM1012,548h119v17h-119zM1387,548h51v17h-51zM398,565h68v17h-68zM961,565h187v17h-187zM1370,565h68v17h-68zM398,582h68v17h-68zM961,582h102v17h-102zM1080,582h85v17h-85zM1370,582h68v17h-68zM398,599h68v17h-68zM978,599h51v17h-51zM1097,599h85v17h-85zM1387,599h34v17h-34zM432,616h17v17h-17zM1114,616h68v17h-68zM1404,616h17v17h-17zM2495,616h17v17h-17zM2529,616h17v17h-17zM1131,633h85v17h-85zM2478,633h68v17h-68zM1148,650h85v17h-85zM2478,650h68v17h-68zM1182,667h34v17h-34zM1301,752h17v17h-17zM1353,752h51v17h-51zM1233,769h154v17h-154zM1233,786h137v17h-137zM1250,803h51v17h-51zM858,854h34v17h-34zM2188,854h68v17h-68zM858,871h17v17h-17zM2154,871h187v17h-187zM1455,888h17v17h-17zM2154,888h221v17h-221zM2137,905h238v16h-238zM2137,921h221v17h-221zM2137,938h221v17h-221zM2154,955h204v17h-204zM2154,972h204v17h-204zM2154,989h204v17h-204zM2154,1006h204v17h-204zM2205,1023h136v17h-136zM2239,1040h85v17h-85zM1114,1057h51v17h-51zM2222,1057h102v17h-102zM1114,1074h51v17h-51zM2188,1074h136v17h-136zM1131,1091h17v17h-17zM2188,1091h136v17h-136zM2171,1108h136v17h-136zM2154,1125h153v17h-153zM2154,1142h136v17h-136zM2171,1159h85v17h-85zM2171,1176h51v17h-51zM1523,1278h34v17h-34zM1506,1295h34v17h-34zM1625,1380h34v17h-34zM824,1397h17v17h-17zM841,1414h34v17h-34zM858,1431h17v17h-17zM858,1448h17v17h-17zM1625,1533h103v17h-103zM1608,1550h120v17h-120zM1625,1567h103v17h-103zM1642,1584h17v17h-17z"/>
<path fill="#e1edf3" d="M705,344h17v17h-17zM500,395h34v17h-34zM483,412h68v17h-68zM483,429h68v17h-68zM568,429h18v17h-18zM2307,480h17v17h-17zM2273,497h34v17h-34zM1949,633h17v17h-17zM1642,735h51v17h-51zM1625,752h68v17h-68zM1625,769h51v17h-51zM961,854h17v17h-17zM1591,871h51v17h-51zM1591,888h68v17h-68zM1813,888h51v17h-51zM364,905h51v16h-51zM1591,905h68v16h-68zM1813,905h51v16h-51zM330,921h85v17h-85zM1591,921h68v17h-68zM1813,921h34v17h-34zM330,938h68v17h-68zM1625,938h34v17h-34zM330,955h68v17h-68zM807,955h34v17h-34zM943,955h35v17h-35zM347,972h17v17h-17zM517,972h34v17h-34zM620,972h17v17h-17zM773,972h68v17h-68zM517,989h69v17h-69zM620,989h17v17h-17zM756,989h85v17h-85zM517,1006h86v17h-86zM705,1006h136v17h-136zM517,1023h51v17h-51zM586,1023h34v17h-34zM637,1023h17v17h-17zM705,1023h136v17h-136zM534,1040h69v17h-69zM637,1040h34v17h-34zM705,1040h119v17h-119zM500,1057h103v17h-103zM705,1057h119v17h-119zM1625,1057h34v17h-34zM500,1074h154v17h-154zM688,1074h136v17h-136zM1608,1074h51v17h-51zM500,1091h171v17h-171zM688,1091h68v17h-68zM790,1091h17v17h-17zM961,1091h17v17h-17zM1608,1091h34v17h-34zM500,1108h256v17h-256zM841,1108h17v17h-17zM483,1125h273v17h-273zM841,1125h34v17h-34zM466,1142h17v17h-17zM517,1142h239v17h-239zM824,1142h51v17h-51zM483,1159h273v17h-273zM841,1159h34v17h-34zM500,1176h256v17h-256zM841,1176h34v17h-34zM534,1193h222v17h-222zM586,1210h136v17h-136zM620,1227h85v17h-85zM637,1244h68v17h-68zM1165,1244h17v17h-17zM654,1261h34v17h-34zM995,1329h17v17h-17zM2154,1329h17v17h-17zM620,1346h17v17h-17zM978,1346h51v17h-51zM603,1363h51v17h-51zM995,1363h17v17h-17zM620,1380h34v17h-34zM1421,1533h34v17h-34zM1421,1550h68v17h-68zM1421,1567h17v17h-17zM2154,1601h68v17h-68zM2137,1618h85v17h-85zM2120,1635h119v17h-119zM2137,1652h102v17h-102zM2137,1669h119v17h-119zM2154,1686h102v17h-102zM2171,1703h85v17h-85zM2188,1720h51v17h-51zM2205,1737h51v17h-51zM2222,1754h34v17h-34z"/>
</g>
<path class="b" d="M251.2,345.5 255.2,349.6 257.7,358.7 256.9,381 261.3,385.1 278.6,394.2 291.8,391.6 301.9,393.2 312.1,398.3 320.2,405.4 354.7,410.5 375,409 395.3,409.4 405.4,411.9 412.5,410.5 435.8,416.6 496.7,434.8 M496.7,434.8 502.8,446 508.9,456.1 509.9,454.2 510.9,463.3 496.7,480.6 482.5,500.9 466.3,516.1 460.2,524.2 461.2,533.3 469.3,540.4 466.3,550.6 456.1,569.9 448,602.3 439.9,632.8 427.7,668.3 M117.7,568.9 295.8,629.7 427.7,668.3 530,693.7 M295.8,629.7 265.4,739.9 275.5,710 244.1,804.4 366.9,1009.9 352.6,982 431.8,1109.9 M431.8,1109.9 432.8,1122 437.9,1148.4 447,1156.5 424.7,1177.8 419.6,1198.1 404.4,1210.3 401.3,1223.5 411.5,1235.7 407.4,1247.9 401.3,1250.9 393.2,1249.9 M431.8,1109.9 437.9,1089.6 444,1051 449,1044.9 458.2,1045.9 467.3,1056.1 475.4,1052 482.5,1036.8 489.6,1004.4 M270.1,1228.6 393.2,1249.9 385.1,1261 415.6,1279.9 M392.4,1250 385.1,1259.7 565.3,1376.6 716.2,1402.2 723.1,1376.6 800,1386.4 M698,1250 672.4,1393.7 M322.2,188.3 500,245.3 541.2,259.5 582.4,269.4 654.8,287 738.6,304.9 819.6,322 926.1,339 1054,356.1 1160.5,366 1200,368.9 M541.2,259.5 521.3,329.1 500,405.8 496.7,434.8 M582.4,269.4 565.3,327.7 571,343.3 572.4,366 583.8,380.2 593.8,405.8 598,414.9 613.6,424.3 602.3,448.4 599.4,471.1 590.9,482.5 595.2,492.4 605.1,490.5 613.6,483.9 620.7,492.4 622.2,513.8 626.4,528 629.3,543.6 637.8,549.3 642,570.6 650.6,567.7 660.5,570.6 670.5,567.7 681.8,571.1 701.7,574.8 707.4,566.3 715.9,567.7 720.2,579.1 M727.3,553.5 720.2,579.1 693.2,730.5 683.2,791.5 M727.3,553.5 812.5,567.7 897.7,580.5 1028.4,596.9 M1054,356.1 1048.3,425.7 1041.2,496.7 1035.5,539.3 1028.4,596.9 1015.6,719.1 1001.4,839.8 M1035.5,539.3 1150,550.1 M500,687.8 559.7,703.5 693.2,730.5 M559.7,703.5 500,957.7 489.6,1004.4 M683.2,791.5 771.3,808.6 1001.4,839.8 1093.8,848.4 M771.3,808.6 742.9,979.9 731.5,1048 676.1,1369.9 672.4,1393.7 M1015.6,719.1 1150,729.3 M1093.8,848.4 1089.5,909.4 1083.8,979.9 1073.9,1092 M1089.5,909.4 1150,913.4 M489.6,1000.3 500,1001.1 731.5,1048 1025.6,1089.2 1073.9,1092 1150,1096.3 M1025.6,1089.2 1022.7,1119 995.7,1369.9 M1022.7,1119 1171.9,1129.5 1164.8,1246.9 M700,1399.7 715.6,1402.5 722.7,1375.5 806.5,1388.3 M806.5,1388.3 808,1382.6 803.7,1373.5 992.6,1395.4 999.7,1340 M806.5,1388.3 815.1,1391.1 825,1411 842,1428.1 859.1,1448 870.5,1457.9 884.7,1470.7 893.2,1493.4 896,1516.1 900.3,1528.9 913.1,1543.1 927.3,1557.3 944.3,1567.3 955.7,1577.2 967,1582.9 975.6,1578.6 986.9,1567.3 992.6,1553.1 1001.1,1540.3 1012.5,1536.6 1025.3,1531.8 1035.2,1537.4 1058,1541.1 1070.7,1541.1 1080.7,1555.9 1092,1565.9 1109.1,1584.3 1113.4,1604.2 1123.3,1621.2 1127.6,1636.9 1140.3,1652.5 1151.7,1672.4 1165.9,1683.8 1170.2,1698 1168.8,1717.8 1180.1,1733.5 M1102.6,1579.5 1110.4,1588.6 1115.6,1606.8 1124.7,1622.3 1128.6,1640.5 1141.6,1656.1 1151.9,1671.7 1164.9,1683.4 1169.6,1692.5 1168.1,1705.5 1171.4,1721 1180.5,1734 1185.7,1753.5 1190.9,1761.3 1206.5,1767.8 1214.3,1774.3 1227.3,1776.9 1240.3,1783.9 1261,1788.6 1271.4,1791.2 1281.8,1798.4 1290.9,1796.4 1299.5,1788.6 M1480.2,1420 1485.2,1434.2 1489.3,1443.3 1494.4,1452.5 1499.4,1462.6 1501.5,1472.8 1498.4,1489 1492.3,1503.2 1491.3,1515.4 1492.9,1525.5 1489.3,1537.7 M1618.1,1420 1611,1432.2 1607,1446.4 1603.9,1459.6 1601.9,1470.7 1703.4,1466.3 1705.4,1472.8 1702.4,1480.9 1702.4,1489 1709.5,1498.1 1715.5,1511.3 M1770.3,1420 1775.4,1456.5 1780.5,1497.1 M1900,1449.4 1822.1,1456.5 1821.1,1464.6 1828.2,1473.8 1833.2,1480.9 1831.2,1491 M1900,1449.4 1957.1,1438.7 M1945.9,1390 1952,1404.2 1952,1420.4 1955.1,1430.6 1958.1,1438.7 1963.2,1445.8 1968.3,1455.9 M1968.3,1455.9 2112.3,1444.4 2116.4,1455.9 2122.5,1452.9 2122.5,1440.7 2120.5,1430.6 2129.6,1426.5 2145.8,1428.6 M2050,1164.9 2055.1,1160.9 2120,1153.2 2125.1,1158.8 2130.2,1154.8 2138.3,1160.9 2140.3,1171 2197.1,1161.3 2262.1,1204.5 M2050,1222.8 2058.1,1236 2076.4,1248.1 2080.4,1255.2 2094.6,1262.3 2102.8,1274.5 2110.9,1281.6 2120,1284.7 2126.1,1294.8 2131.2,1307 2137.3,1313.1 2146.4,1321.2 2151.5,1331.3 2155.5,1338.4 2164.7,1340.5 M2098.7,872.8 2145.4,863.6 2315.8,824.1 2319.9,820 M2087.5,820 2098.7,872.8 M2080.4,822 2087.5,832.2 2083.5,878.8 2070.3,897.1 2060.1,901.2 2050,911.3 M2145.4,863.6 2150.4,890 2155.5,890 2163.6,878.8 2175.8,867.7 2183.9,863.6 2199.1,856.5 2210.3,852.5 2221.5,853.5 2227.6,860.6 2230.6,868.7 2229.6,880.9 2204.2,867.7 M2230.6,868.7 2244.8,874.8 2257,882.9 2268.1,880.9 2275.2,885.9 M2204.2,867.7 2201.2,887 2192,901.2 2179.9,913.3 2173.8,933.6 2165.7,938.7 2153.5,932.6 2149.4,949.9 2141.3,972.2 2133.2,992.5 2134.2,1002.6 2125.1,1010.7 2108.8,1015.8 2100.7,1021.9 2088.6,1025 2074.4,1033.1 2060.1,1030 2050,1014.8 M2319.9,832.2 2326,860.6 2338.1,898.1 2367.6,891 M2076.4,1070.6 2202.2,1047.3 2352.4,1015.8 M2076.4,1070.6 2076.4,1083.8 2064.2,1101 2050,1104.1 M2335.2,714.5 2331.2,730.7 2326.1,740.9 2330.2,749 2327.1,759.2 2331.2,767.3 2343.3,776.4 2355.5,786.6 2347.4,797.7 2342.3,805.8 2337.3,809.9 M2250,697.3 2296.7,686.1 2305.8,687.1 2314.9,692.2 2319,702.3 2326.1,710.5 2335.2,714.5 M2335.2,714.5 2376.8,725.7 M2389,719.6 2395.1,708.4 2390,696.2 2383.9,669.9 2381.9,659.7 2380.9,617.1 M2380.9,617.1 2376.8,598.8 2369.7,574.5 2364.7,566.4 2358.6,567.4 2357.5,556.2 2353.5,546.1 M2380.9,617.1 2412.3,608 2465.1,593.8 2475.2,582.6 2480.3,576.5 M2407.3,540 2404.6,556.2 2407.3,574.5 2409.3,590.7 2409.3,600.9 2412.3,608 M2465.1,546.1 2475.2,556.2 2483.4,566.4 M2381.9,659.7 2412.3,653.6 2455,639.4 2475.2,634.4 2480.3,645.5 2481.3,649.6 M2455,639.4 2467.1,676 M2250,839.9 2310.9,826.1 2317,821 2325.1,815 M2388.8,469.3 2413.2,463.2 2415.2,443.9 2425.4,442.9 2431.5,433.8 2440.6,427.7 2438.6,419.6 2443.6,409.4 2448.7,394.2 2443.6,377 2446.7,360.7 2444.7,344.5 2451.8,320.2 2459.9,291.8 2470,290.7 2472,299.9 2478.1,301.9 2490.3,292.8 2500.5,284.7 2523.8,292.8 2532.9,316.1 2543.1,342.5 2551.2,362.8 2550.2,369.9 2559.3,372.9 2566.4,367.8 2570.5,372.9 2572.5,385.1 2576.6,393.2 2586.7,394.2 M2283.2,500.7 2340,485.5 2413.1,463.2 M2283.2,500.7 2264.9,511.9 2256.8,522 2248.7,534.2 2243.6,546.4 2230.4,558.6 2220.3,566.7 2210.1,572.8 M2340,485.5 2342,495.7 2345.1,505.8 2350.2,516 2352.2,526.1 2351.2,536.2 2354.2,546.4 M2413.1,463.2 2417.1,469.3 2415.1,477.4 2420.2,487.5 2419.2,495.7 2413.1,503.8 2406,508.9 2408,522 2408,536.2 M2425.2,442.9 2433.4,455.1 2439.4,469.3 2445.5,485.5 2451.6,503.8 2457.7,522 2465,546 M1953.5,753.7 1951.5,743.5 1955.5,737.4 1963.6,733.4 1971.8,725.2 1971.8,718.8 1974.8,715.1 1978.2,702.9 1976.8,682.6 M2119.9,640 2119.9,646.1 2121.9,656.2 2128,662.3 2134.1,669.4 2134.1,671.5 M2119.9,640 2126,627.8 2154.4,619.7 2195,610.6 2213.2,605.5 2219.3,587.3 2225.4,567 2233.5,558.8 2240.6,547.7 M1953.5,753.7 1971.8,761.8 1990,770.9 2022.5,741.5 2052.9,723.2 2089.4,705 2119.9,682.6 2134.1,671.5 M2071.2,737.4 2083.4,799.9 M2101.6,715.1 2103.7,725.2 2111.8,729.3 2174.7,713.1 2250,697.2 M1640.7,425 1645.6,417.7 1655.3,407.9 1666.7,401.4 1678.1,401.4 1687.8,404.7 1707.3,414.4 1747.9,432.3 1788.4,450.9 1829,468.8 1837.1,476.1 1835.5,485.8 1837.1,496.4 M1480,395.7 1489.7,394.9 1497.9,396.6 1507.6,400.6 1515.7,405.5 1520.6,414.4 1527.1,411.2 1535.2,412.8 1541.7,418.5 1549.8,424.2 1559.5,427.4 1567.7,425 1575.8,418.5 1582.3,416.9 1588.8,422.5 1596.9,422.2 1608.2,421.7 1615.6,419.3 1621.2,425.8 1626.1,427.4 1635.8,425.8 1640.7,425 M1540.1,505.3 1533.6,511.8 1530.3,519.9 1530.3,545.9 1527.1,550.8 1515.7,557.3 1510.8,565.4 1509.2,569.9 M1594.4,508.6 1609.9,515.9 1618,521.6 1624.5,528.9 1635.8,531.3 1658.6,535.4 1668.3,538.6 1678.1,542.7 1691,542.3 1700.8,543.5 1708.9,549.2 1718.6,555.6 1723.5,563.8 1725.1,569.9 1725.8,571 1729.9,582.3 1733.1,592.1 M1742,753.6 1694.2,756.9 1617.9,761.8 M1600,750.4 1606.5,752 1612.2,756.9 1616.2,765 1624.4,773.1 1632.5,781.2 1638.1,789.4 1637.3,800.7 1631.7,810.5 1626,820.2 1616.2,825.1 1606.5,828.3 1600,834.8 M1794.8,791.8 1882.5,781.2 1944.2,773.1 M1867.9,491.4 1876,504.4 1885.7,514.2 1901.9,523.9 1924.7,533.6 1945.8,548.2 1957.1,566.1 1965.3,598.6 1978.2,647.3 1976.8,682.6 M1199.9,368.9 1326.5,372.9 1408.7,373.9 1408.7,350.6 1419.9,353.6 1421.9,368.9 1426,385.1 1431,390.2 1454.4,394.2 1462.5,400.3 1472.6,401.3 1480,395.6 M1326.5,372.9 1328.6,385.1 1329.6,405.4 1330.6,423.7 1334.7,443.9 M1332.6,440 1338.7,454.6 1339.9,483.8 1341.2,513.1 1344.8,527.7 1349.7,539.8 1350.9,559.3 1348.5,567.8 1337.5,577.6 1342.4,588.5 1354.5,595.8 1354.5,659.2 1353.3,707.9 M1150,550.8 1247.4,556.9 1349.7,559.3 M1353.3,707.9 1579.8,703 M1353.3,707.9 1347.2,712.7 1349.7,724.9 1353.3,732.2 1347.2,746.8 1344.8,756.6 1349.7,766.3 M1150,729.8 1262,735.9 1271.8,743.2 1282.7,748 1293.7,744.4 1310.7,744.4 1325.3,752.9 1342.4,761.4 1349.7,767.5 1355.8,773.6 M1509.2,569.8 1506.7,575.1 1515.3,584.9 1512.8,605.6 1512.8,627.5 1522.6,638.5 1544.5,649.4 1556.7,665.2 1577.4,675 1581,683.5 1583.4,703 1590.7,715.2 1588.3,732.2 1593.2,744.4 1600,750.5 M1355.8,780 1359.4,792.2 1366.7,801.9 1369.2,823.8 1377.7,833.6 1380.1,853.1 1380.1,872.5 1377.7,879.8 1385,887.1 1387.4,899.3 1395.9,906.6 1399.6,920 1408.1,926.1 1422.7,932.2 1416.6,941.9 1416.6,950.5 1425.2,965.1 1437.3,974.8 1438.6,1106.3 1438.6,1139.9 M1385,885.2 1568.8,879.4 1576.1,885.9 1584.7,893.2 M1150,913.4 1247.4,919.3 1399.6,921.2 M1150,1096.6 1296.1,1104.4 1438.6,1105.1 M1599.3,834.8 1602.9,848.2 1605.4,857.9 1595.6,875 1584.7,893.2 1582.2,906.6 1585.9,923.7 1593.2,935.8 1612.7,950.5 1622.4,965.1 1627.3,977.2 1630.9,982.1 1637,978.5 1651.6,983.3 1649.2,994.3 1644.3,1008.9 1641.9,1019.9 1651.6,1030.8 1668.7,1038.1 1684.5,1050.3 1689.4,1064.9 1690.6,1079.5 1697.9,1090.5 1707.6,1091.7 1710.1,1103.9 1707.6,1116 1702.8,1119.7 1694.2,1125.8 1688.1,1138 M1439.8,1137 1444.6,1168.7 1449.5,1202.8 1449,1241.8 1448.3,1309.9 M1165.8,1246.6 1176.8,1257.6 1186.5,1261.2 1196.3,1260.7 1198.7,1257.6 1204.8,1263.7 1207.2,1272.2 1223.1,1275.8 1234,1277.1 1243.8,1282.7 1252.3,1279.5 1260.8,1280.7 1264.4,1288 1271.8,1296.5 1283.9,1289.2 1293.7,1295.3 1302.2,1299 1308.3,1299 1311.9,1306.3 1319.2,1294.1 1329,1297.8 1336.3,1295.3 1344.8,1302.6 1353.3,1308 1361.9,1301.4 1374,1297.8 1382.5,1297.8 1391.1,1294.1 1400.8,1299 1409.3,1293.4 1420.3,1300.2 1428.8,1306.3 1439.8,1309.9 1450.7,1314.8 1461.7,1315.5 1470.9,1316.8 M1439.8,1136.6 1656.5,1128.5 1663.8,1132.2 1657.7,1146.8 1651.6,1159 1683.3,1157.7 M1470.9,1316.8 1471.9,1350.1 1472.6,1412.2 1481.2,1423.2 M1471.9,1350.8 1621.2,1346 M1694.2,1120 1689.4,1132.2 1685.7,1146.8 1683.3,1157.7 1684.5,1166.3 1676,1178.4 1671.1,1193.1 1667.5,1207.7 1661.4,1217.4 1648,1236.9 1646.8,1253.9 1634.6,1266.1 1629.7,1278.3 1626.1,1288 1618.8,1302.6 1621.2,1319.7 1623.6,1331.9 1622.4,1346.5 1624.8,1363.5 1627.3,1378.1 1635.8,1387.9 1628.5,1404.9 1618,1420 M1759.7,801.4 1764.5,857.4 1770.6,911 1771.8,935.3 1768.2,952.4 1775.5,969.4 1774.3,986.5 1768.2,998.6 1758.4,1010.8 1757.2,1027.9 1759.7,1040 M1882.6,781.9 1892.4,857.4 1902.1,941.4 M1706.4,1091.7 1700,1087.5 1709.7,1079 1721.9,1081.4 1739,1083.9 1740.2,1071.7 1753.6,1059.5 1754.8,1044.9 1759.7,1040 1775.5,1029.1 1787.7,1027.9 1799.8,1032.7 1812,1023 1824.2,1026.6 1832.7,1010.8 1840,1008.4 1848.5,1016.9 1857.1,1014.5 1860.7,1001.1 1870.5,988.9 1877.8,971.9 1887.5,969.4 1899.7,965.8 1907,957.2 1902.1,941.4 1919.2,940.2 1931.3,952.4 1945.9,956 1958.1,962.1 1967.9,958.5 1977.6,960.9 1994.6,953.6 2004.4,962.1 2015.3,968.2 2023.9,967 2030,952.4 2033.6,930.5 2040.9,928 2047,915.8 2049.9,911.2 M2083.5,799.9 2088.4,825.7 M2015.3,968.2 2014.1,984 2026.3,996.2 2038.5,1009.6 2049.9,1014.7 M2049.9,1014.7 2045.8,1025.4 2028.7,1042.5 2016.6,1059.5 1999.5,1074.1 1982.5,1085.1 M1763.3,1108.2 1982.5,1085.1 2076.5,1070.5 M2065.3,1100 2050.6,1107.3 2040.9,1115.8 2026.3,1120.7 2014.1,1134.1 2001.9,1143.8 1982.5,1151.1 1970.3,1168.2 1961.8,1173.1 1960.6,1188.9 M1691.8,1124.6 1700,1124.4 1758.4,1120.7 1764.5,1107.3 M1661.4,1218.6 1700,1217.4 1769.4,1211.5 1892.4,1197.4 1960.6,1188.9 2021.4,1180.4 M1769.4,1211.5 1771.8,1246.1 1769.4,1343.5 1768.2,1404.4 M1892.4,1197.4 1902.1,1226.6 1914.3,1265.6 1926.5,1302.1 1936.2,1326.5 1948.4,1345.9 1953.2,1359.3 1948.4,1367.9 1945.9,1387.3 M2021.4,1180.4 2012.9,1195 2016.6,1202.3 2028.7,1209.6 2040.9,1212 2049.9,1222.7 M2021.4,1180.4 2049.9,1164.8 M237.5,191.6 245.9,199.5 254.4,206.5 262.8,213.6 271.2,220.6 281.5,223.9 292.3,221.5 298.4,201.9 304,188.7 304,179.8 M633.5,181.4 643.5,185.6 649.1,201.2 649.1,221.1 644.9,241 640.6,248.1 644.9,252.4 643.5,262.3 649.1,272.3 655.7,279.4 657.7,287 M843.2,179.9 818.2,322 M1163.4,179.9 1160.5,366 M2304.8,838.3 2319,832.2 M2500.5,284.7 2488.3,279.6 2491.3,271.5 2486.2,252.2 2494.4,245.1 2512.6,238 2521.8,242 2541,233.9 2545.1,224.8 M2695.3,297.8 2691.2,303.9 M2200,490.6 2210.1,487.5 2220.3,486.5 2226.4,490.6 2240.6,482.5 2256.8,471.3 2267,464.2 2277.1,462.2 2287.3,464.2 2287.3,479.4 2290.3,485.5 M1975.4,682.6 1976.2,702.9 1972.8,715.1 M2121.9,645.1 2124.4,656.2 2130.4,661.3 2136.1,667.4 M1163.2,178.1 1160.1,360.7 M1408.7,178.1 1408.7,350.6 M2007.9,183.7 2010.9,203.5 2020,246.1 2029.2,297.8 2038.3,340.5 2045.9,377 2049.9,401.3 2059.6,422.6 2074.8,437.9 2091.6,457.6 2099.2,460.7 2141.8,461.6 2157,466.8 2169.2,475.9 2176.8,477.4 2181.4,471.3 2189,478.9 2196.6,488.1 2199.9,490.5 M2008.5,188.3 2011.5,206.5 2020.7,249.1 2029.8,300.9 2038.9,343.5 2046.5,380 2050.5,402.9 2060.2,424.2 2075.4,439.4 2092.2,458.6 2099.8,461.6 2142.4,462.5 2157.6,467.7 2169.8,476.8 2176.8,478.3 2181.4,472.3 2189,479.9 2196.6,489 2199.9,491.4 M1952.5,753.7 1947.4,761.8 1951.5,771.9 1963.6,782.1 1973.8,786.1 1988,787.1 2000.2,783.1 2016.4,778 2026.5,772.9 2033.6,763.8 2044.8,753.7 2061,741.5 2071.2,736.4 2087.4,725.2 2101.6,715.1 2109.7,707 2117.9,697.8 2125,689.7 2131,680.6 2136.1,672.5 2133.1,670 2119.9,672.5 2099.6,678.6 2079.3,685.7 2070.2,694.8 2073.2,699.9 2065.1,701.3 2044.8,700.9 2032.6,702.9 2024.5,707 2016.4,715.1 2012.3,723.2 2008.3,730.3 2000.2,733.4 1990,741.5 1981.9,753.7 1975.8,752.6 1961.6,753.7 1954.5,751.6 1952.5,753.7 M1966.7,718.8 1982.9,718.8 1984.3,724.2 1979.9,733.4 1967.7,733.8 1963.6,725.2 1966.7,718.8 M2090.5,648.1 2093.5,638 2098.6,628.9 2107.7,621.8 2115.8,612.6 2134.1,605.5 2154.4,597.4 2166.6,592.3 2174.7,587.3 2172.6,581.2 2182.8,578.1 2195,572 2207.1,569 2221.3,562.9 2231.5,556.8 2239.6,548.7 2242.7,550.7 2235.6,560.9 2238.6,570 2235.6,577.1 2239.6,581.2 2240.6,593.3 2240.6,603.5 2231.5,607.5 2225.4,615.7 2217.3,622.8 2207.1,627.8 2186.9,632.9 2174.7,630.9 2154.4,632.9 2134.1,638 2119.9,643.1 2115.8,649.1 2105.7,654.6 2095.5,655.8 2090.5,648.1 M2091.5,565.9 2096.6,573.1 2102.6,578.1 2097.6,585.2 2091.5,594.4 2089.4,587.3 2085.4,583.2 2090.5,578.1 2091.5,565.9 M1540.1,505.3 1546.6,496.4 1554.7,489.9 1562.8,481.8 1570.1,473.7 1577.4,464.7 1584.7,456.6 1592.8,450.1 1602.6,445.3 1612.3,440.4 1622.9,435.5 1631.8,429 1635.8,425.8 1640.7,425 1645.6,417.7 1649.6,406.3 1651.3,396.6 1661,390.9 1673.2,389.3 1675.6,378.7 1679.7,369.8 1686.2,360.8 1695.9,360 1707.3,364.1 1717,368.1 1726.8,369.8 1738.1,369 1747.9,365.7 1759.2,368.1 1765.7,374.6 1770.6,385.2 1774.6,394.9 1780.3,404.7 1789.3,411.2 1799.8,412.8 1811.2,411.2 1821.7,409.5 1830.6,411.2 1827.4,422.5 1825.8,431.5 1835.5,437.1 1845.3,444.4 1842.8,455 1840.4,464.7 1850.1,468 1858.2,471.2 1856.6,481 1851.8,489.1 1861.5,492.3 1869.6,489.9 1874.5,497.2 1876.1,498.8 1869.6,494 1858.2,495.6 1846.9,497.2 1836.3,496.4 1833.1,489.9 1830.6,481 1821.7,483.4 1812,487.5 1800.6,488.3 1790.1,490.7 1780.3,495.6 1772.2,502.9 1764.1,506.9 1754.4,506.1 1743.8,506.9 1734.9,503.7 1727.6,495.6 1720.3,487.5 1708.9,485.8 1698.3,484.2 1691,493.1 1688.6,486.7 1686.2,479.4 1692.7,476.1 1699.2,467.2 1706.5,459.9 1715.4,455 1713.8,450.9 1704,450.9 1693.5,455 1685.4,463.1 1678.9,469.6 1671.6,476.9 1663.4,483.4 1654.5,490.7 1644.8,494.8 1634.2,498 1625.3,504.5 1616.4,510.2 1611.5,515.1 1603.4,513.4 1594.4,508.6 1596.1,502.1 1600.1,497.2 1608.2,492.3 1606.6,486.7 1600.1,489.9 1590.4,491.5 1580.6,495.6 1571.7,499.6 1562,505.3 1551.4,509.4 1541.7,510.2 1540.1,505.3 M1796.4,532 1804.5,532 1812.7,530.4 1820,523.9 1830.5,523.9 1840.3,527.1 1846.8,532 1845.1,540.1 1841.9,548.2 1840.3,558 1843.5,564.5 1833.8,569.4 1828.9,578.3 1819.2,582.3 1811,592.1 1802.9,598.6 1801.3,608.3 1796.4,614.8 1797.2,626.2 1795.6,637.5 1791.6,647.3 1790.7,659.9 1794.8,640 1791.6,646.5 1790.7,656.2 1794,666.8 1790.7,677.3 1794.8,687.1 1799.7,696.8 1805.4,706.6 1809.4,716.3 1811,727.7 1811,747.1 1807.8,760.1 1802.9,771.5 1799.7,782.9 1794.8,791.8 1786.7,795 1776.9,801.5 1765.6,803.1 1759.9,802.3 1755.8,792.6 1751.8,782.9 1746.1,773.1 1742,763.4 1742,753.6 1741.2,745.5 1741.2,734.2 1737.2,724.4 1733.1,714.7 1732.3,703.3 1735.6,693.6 1738,682.2 1737.2,672.5 1738,661.1 1743.7,649.7 1742.9,640 1743.7,650.5 1742.9,640.8 1742.9,629.4 1744.5,618.1 1746.1,606.7 1752.6,596.9 1755.8,587.2 1762.3,572.6 1762.3,565.3 1746.1,566.1 1745.3,580.7 1736.4,592.1 1728.2,606.7 1721.8,621.3 1720.1,629.4 1725,627.8 1733.1,611.6 1741.2,595.3 1746.1,582.3 1751,566.1 1762.3,565.3 1778.6,561.2 1778.6,548.2 1795.6,547.4 1796.4,532 M1853.2,533.6 1859.7,536.9 1866.2,538.5 1874.4,545 1882.5,549.9 1892.2,553.1 1901.9,555.6 1911.7,558 1918.2,569.4 1914.9,574.2 1918.2,582.3 1922.2,592.1 1923.1,603.4 1923.9,614.8 1919.8,622.9 1916.6,631 1910.1,639.2 1903.6,647.3 1901.9,655.4 1903.6,659.9 1903.8,658.3 1912.9,662.3 1919,658.3 1927.1,648.1 1931.2,640 1939.3,632.9 1945.4,631.9 1951.5,633.9 1960.6,648.1 1965.7,660.3 1969.7,674.5 1976.8,682.6 1986,684.7 1992,678.6 2001.2,668.4 2004.2,658.3 2001.2,642 1998.1,625.8 1999.1,605.5 2006.2,595.4 2010.3,583.2 2007.3,575.1 2002.2,562.9 1994.1,556.8 1986,552.8 1994.1,548.7 2003.2,549.7 2006.2,558.8 2013.4,567 2018.4,564.9 2023.5,571 2025.5,581.2 2031.6,576.1 2040.7,579.1 2050.9,583.2 2062.1,583.2 2065.1,575.1 2062.1,568 2052.9,565.9 2062.1,562.9 2068.1,556.8 2074.2,564.9 2073.2,557.8 2070.2,553.8 2061,548.7 2057,538.6 2050.9,530.4 2040.7,530.4 2033.6,522.3 2024.5,516.2 2016.4,506.1 2008.3,503 2000,504.4 1983.1,499.5 1966.9,499.5 1945.8,499.5 1924.7,503.6 1903.6,504.4 1882.5,500.4 1874.4,496.3 1867.9,491.4 1866.2,497.9 1869.5,507.7 1876,514.2 1882.5,520.6 1882.5,523.9 1869.5,523.9 1859.7,525.5 1853.2,533.6 M2174.7,587.3 2176.7,581.2 2184.8,579.1 2195,575.1 2203.1,577.1 2202.1,585.2 2204.1,590.3 2195,595.4 2186.9,592.3 2181.8,589.3 2174.7,587.3 M1654.5,433.9 1658.6,427.4 1666.7,419.3 1674.8,412.8 1681.3,411.2 1680.5,414.4 1673.2,422.5 1665.1,429 1657.8,434.7 1654.5,433.9 M1939.3,519.3 1945.4,512.2 1963.6,509.1 1975.8,512.2 1981.9,522.3 1981.9,534.5 1971.8,532.5 1959.6,525.4 1947.4,522.3 1939.3,519.3 M1903.6,510.9 1918.2,508.5 1932.8,510.9 1931.2,517.4 1916.6,519 1905.2,517.4 1903.6,510.9"/>
<path class="b2" d="M392.4,1250 385.1,1259.7 565.3,1376.6 716.2,1402.2 723.1,1376.6 800,1386.4 M698,1250 672.4,1393.7 M322.2,188.3 500,245.3 541.2,259.5 582.4,269.4 654.8,287 738.6,304.9 819.6,322 926.1,339 1054,356.1 1160.5,366 1200,368.9 M1054,356.1 1048.3,425.7 1041.2,496.7 1035.5,539.3 1028.4,596.9 1015.6,719.1 1001.4,839.8 M1035.5,539.3 1150,550.1 M683.2,791.5 771.3,808.6 1001.4,839.8 1093.8,848.4 M1015.6,719.1 1150,729.3 M1093.8,848.4 1089.5,909.4 1083.8,979.9 1073.9,1092 M1089.5,909.4 1150,913.4 M731.5,1048 1025.6,1089.2 1073.9,1092 1150,1096.3 M1025.6,1089.2 1022.7,1119 995.7,1369.9 M700,1399.7 715.6,1402.5 722.7,1375.5 806.5,1388.3 M1945.9,1390 1952,1404.2 1952,1420.4 1955.1,1430.6 1958.1,1438.7 1963.2,1445.8 1968.3,1455.9 M2050,1164.9 2055.1,1160.9 2120,1153.2 2125.1,1158.8 2130.2,1154.8 2138.3,1160.9 2140.3,1171 2197.1,1161.3 2262.1,1204.5 M2098.7,872.8 2145.4,863.6 2315.8,824.1 2319.9,820 M2087.5,820 2098.7,872.8 M2076.4,1070.6 2202.2,1047.3 2352.4,1015.8 M2335.2,714.5 2331.2,730.7 2326.1,740.9 2330.2,749 2327.1,759.2 2331.2,767.3 2343.3,776.4 2355.5,786.6 2347.4,797.7 2342.3,805.8 2337.3,809.9 M2335.2,714.5 2376.8,725.7 M2389,719.6 2395.1,708.4 2390,696.2 2383.9,669.9 2381.9,659.7 2380.9,617.1 M2380.9,617.1 2376.8,598.8 2369.7,574.5 2364.7,566.4 2358.6,567.4 2357.5,556.2 2353.5,546.1 M2380.9,617.1 2412.3,608 2465.1,593.8 2475.2,582.6 2480.3,576.5 M2407.3,540 2404.6,556.2 2407.3,574.5 2409.3,590.7 2409.3,600.9 2412.3,608 M2381.9,659.7 2412.3,653.6 2455,639.4 2475.2,634.4 2480.3,645.5 2481.3,649.6 M2455,639.4 2467.1,676 M2388.8,469.3 2413.2,463.2 2415.2,443.9 2425.4,442.9 2431.5,433.8 2440.6,427.7 2438.6,419.6 2443.6,409.4 2448.7,394.2 2443.6,377 2446.7,360.7 2444.7,344.5 2451.8,320.2 2459.9,291.8 2470,290.7 2472,299.9 2478.1,301.9 2490.3,292.8 2500.5,284.7 2523.8,292.8 2532.9,316.1 2543.1,342.5 2551.2,362.8 2550.2,369.9 2559.3,372.9 2566.4,367.8 2570.5,372.9 2572.5,385.1 2576.6,393.2 2586.7,394.2 M2283.2,500.7 2340,485.5 2413.1,463.2 M2413.1,463.2 2417.1,469.3 2415.1,477.4 2420.2,487.5 2419.2,495.7 2413.1,503.8 2406,508.9 2408,522 2408,536.2 M2071.2,737.4 2083.4,799.9 M1480,395.7 1489.7,394.9 1497.9,396.6 1507.6,400.6 1515.7,405.5 1520.6,414.4 1527.1,411.2 1535.2,412.8 1541.7,418.5 1549.8,424.2 1559.5,427.4 1567.7,425 1575.8,418.5 1582.3,416.9 1588.8,422.5 1596.9,422.2 1608.2,421.7 1615.6,419.3 1621.2,425.8 1626.1,427.4 1635.8,425.8 1640.7,425 M1540.1,505.3 1533.6,511.8 1530.3,519.9 1530.3,545.9 1527.1,550.8 1515.7,557.3 1510.8,565.4 1509.2,569.9 M1742,753.6 1694.2,756.9 1617.9,761.8 M1794.8,791.8 1882.5,781.2 1944.2,773.1 M1199.9,368.9 1326.5,372.9 1408.7,373.9 1408.7,350.6 1419.9,353.6 1421.9,368.9 1426,385.1 1431,390.2 1454.4,394.2 1462.5,400.3 1472.6,401.3 1480,395.6 M1326.5,372.9 1328.6,385.1 1329.6,405.4 1330.6,423.7 1334.7,443.9 M1332.6,440 1338.7,454.6 1339.9,483.8 1341.2,513.1 1344.8,527.7 1349.7,539.8 1350.9,559.3 1348.5,567.8 1337.5,577.6 1342.4,588.5 1354.5,595.8 1354.5,659.2 1353.3,707.9 M1150,550.8 1247.4,556.9 1349.7,559.3 M1353.3,707.9 1579.8,703 M1150,729.8 1262,735.9 1271.8,743.2 1282.7,748 1293.7,744.4 1310.7,744.4 1325.3,752.9 1342.4,761.4 1349.7,767.5 1355.8,773.6 M1509.2,569.8 1506.7,575.1 1515.3,584.9 1512.8,605.6 1512.8,627.5 1522.6,638.5 1544.5,649.4 1556.7,665.2 1577.4,675 1581,683.5 1583.4,703 1590.7,715.2 1588.3,732.2 1593.2,744.4 1600,750.5 M1355.8,780 1359.4,792.2 1366.7,801.9 1369.2,823.8 1377.7,833.6 1380.1,853.1 1380.1,872.5 1377.7,879.8 1385,887.1 1387.4,899.3 1395.9,906.6 1399.6,920 1408.1,926.1 1422.7,932.2 1416.6,941.9 1416.6,950.5 1425.2,965.1 1437.3,974.8 1438.6,1106.3 1438.6,1139.9 M1150,913.4 1247.4,919.3 1399.6,921.2 M1150,1096.6 1296.1,1104.4 1438.6,1105.1 M1599.3,834.8 1602.9,848.2 1605.4,857.9 1595.6,875 1584.7,893.2 1582.2,906.6 1585.9,923.7 1593.2,935.8 1612.7,950.5 1622.4,965.1 1627.3,977.2 1630.9,982.1 1637,978.5 1651.6,983.3 1649.2,994.3 1644.3,1008.9 1641.9,1019.9 1651.6,1030.8 1668.7,1038.1 1684.5,1050.3 1689.4,1064.9 1690.6,1079.5 1697.9,1090.5 1707.6,1091.7 1710.1,1103.9 1707.6,1116 1702.8,1119.7 1694.2,1125.8 1688.1,1138 M1439.8,1137 1444.6,1168.7 1449.5,1202.8 1449,1241.8 1448.3,1309.9 M1439.8,1136.6 1656.5,1128.5 1663.8,1132.2 1657.7,1146.8 1651.6,1159 1683.3,1157.7 M1471.9,1350.8 1621.2,1346 M1694.2,1120 1689.4,1132.2 1685.7,1146.8 1683.3,1157.7 1684.5,1166.3 1676,1178.4 1671.1,1193.1 1667.5,1207.7 1661.4,1217.4 1648,1236.9 1646.8,1253.9 1634.6,1266.1 1629.7,1278.3 1626.1,1288 1618.8,1302.6 1621.2,1319.7 1623.6,1331.9 1622.4,1346.5 1624.8,1363.5 1627.3,1378.1 1635.8,1387.9 1628.5,1404.9 1618,1420 M1759.7,801.4 1764.5,857.4 1770.6,911 1771.8,935.3 1768.2,952.4 1775.5,969.4 1774.3,986.5 1768.2,998.6 1758.4,1010.8 1757.2,1027.9 1759.7,1040 M1882.6,781.9 1892.4,857.4 1902.1,941.4 M2083.5,799.9 2088.4,825.7 M1763.3,1108.2 1982.5,1085.1 2076.5,1070.5 M1661.4,1218.6 1700,1217.4 1769.4,1211.5 1892.4,1197.4 1960.6,1188.9 2021.4,1180.4 M1892.4,1197.4 1902.1,1226.6 1914.3,1265.6 1926.5,1302.1 1936.2,1326.5 1948.4,1345.9 1953.2,1359.3 1948.4,1367.9 1945.9,1387.3 M2021.4,1180.4 2049.9,1164.8"/>
<path class="c" d="M234.7,179.8 244,187.8 256.2,198.1 270.3,208.4 278.7,215.4 282.5,212.9 286.2,212.9 289,215 292.3,212.2 291.8,198.1 291.4,179.8 M236.1,197.2 242.2,201.9 248.7,208.4 253.4,213.1 256.2,216.9 262.8,221.1 273.1,226.2 284.3,231.4 291.4,232.3 293.7,235.6 297.5,239.3 303.1,238.9 305.9,237.5 M305.9,237.5 304,245 305,251.5 307.8,253.4 293.7,259 282.5,266.5 275,274 274,278.7 277.8,280.1 284.3,277.8 281.5,281.5 280.6,285.3 275,291.8 282.5,294.6 286.2,299.3 291.8,296.5 297.5,290.9 303.1,291.8 307.8,286.2 310.6,273.1 312.4,263.7 318.1,257.1 322.8,252.5 321.8,241.2 320.9,226.2 316.2,220.6 321.8,222.5 324.6,213.1 326.5,203.7 322.8,201.9 321.8,188.7 M321.8,188.7 319,182.2 310.6,179.8 M236.1,197.2 232.8,204.7 229,215 228.1,224.4 231.9,233.7 232.8,241.2 230.9,254.3 230,268.4 227.2,282.4 226.2,287.1 231.9,283.9 239.4,290.9 225.8,291.8 224.4,298.4 230.9,304.9 M230.9,308 224.8,321.2 219.7,320.2 214.7,326.2 217.7,330.3 M217.7,330.3 230.9,331.3 239,337.4 243.1,344.1 251.2,345.5 M251.2,346.1 241,347.4 235,340.9 218.7,335.4 M218.7,335.4 213.6,346.5 208.6,364.8 202.5,375 192.3,393.2 184.2,409.4 180.2,423.7 173.1,435.8 157.8,469.9 M173.1,440 163.9,458.3 157.8,471.5 149.7,479.6 141.6,489.7 131.5,504.9 121.3,517.1 123.3,529.3 117.3,543.5 114.8,557.7 117.7,568.9 112.2,580 114.8,588.1 113.2,602.3 104.1,616.5 100,628.7 87.8,641.9 78.7,652.1 75.7,665.2 81.7,679.4 87.8,699.7 83.8,716 78.7,726.1 77.7,739.9 M85.8,710 79.7,724.2 78.7,740.4 74.6,753.6 80.7,766.8 85.8,780 91.9,789.1 92.5,799.3 95.9,805.4 97,811.5 90.9,809.4 87.8,818.6 91.9,814.5 99,825.7 107.1,833.8 M107.1,833.8 109.1,825.7 113.2,818.6 119.3,818.6 125.4,824.7 135.5,826.1 143.6,831.8 157.8,837.8 143.6,834.8 127.4,829.7 115.2,828.7 117.3,839.9 119.3,852 120.3,862.2 113.2,856.1 110.2,843.9 108.1,836.8 M108.1,836.8 104.1,843.9 101,856.1 100,870.3 105.1,887.6 117.3,894.7 120.3,903.8 116.2,911.9 108.1,918 105.7,931.2 112.2,945.4 117.3,961.6 120.3,975.8 120.3,981.9 127.4,990 130.4,998.1 135.9,1003.2 133.5,1009.9 M120.3,980 127.4,987.1 131.5,997.2 136.5,1003.3 132.5,1013.5 140.6,1022.6 136.5,1032.8 134.5,1042.9 130.4,1054.1 136.5,1062.2 151.8,1066.2 161.9,1072.3 172,1078.4 179.1,1079.4 188.3,1087.5 193.4,1094.7 192.3,1100.7 200.5,1108.9 210.6,1114.9 221.8,1118 226.8,1122 228.9,1131.2 224.8,1137.3 229.9,1142.3 233.9,1138.3 241,1142.3 248.1,1153.5 257.3,1164.7 265.4,1177.8 269.4,1191 269,1203.2 265.4,1211.3 265.4,1219.4 270.5,1219.4 270.1,1228.6 M270.1,1228.6 269,1241.8 274.5,1251.9 274.5,1263.1 283.7,1275.3 282.6,1279.9 M273.1,1250 274.3,1264.6 284,1275.6 281.6,1282.9 276.7,1284.1 277.4,1296.3 284,1309.7 288.9,1321.8 286.4,1334 296.2,1347.4 293.8,1370.5 301.1,1379.1 298.6,1396.1 296.2,1403.4 299.8,1416.8 310.8,1430.2 321.8,1443.6 332.7,1449.7 341.2,1465.5 351,1483.8 358.3,1498.4 365.6,1506.9 368,1519.1 360.7,1533.7 353.4,1544.6 346.1,1549.5 336.4,1553.2 326.6,1551.9 314.4,1545.9 304.7,1542.2 304.7,1548.3 313.2,1558 321.8,1569 327.8,1576.3 327.8,1588.5 M330.3,1592.3 341.2,1598.4 348.5,1609.4 358.3,1613 363.1,1624 368,1630.8 377.8,1628.3 387.5,1630.8 396,1621.5 393.6,1637.4 397.2,1645.9 414.3,1667.8 430.1,1677.5 435,1690.9 438.6,1706.8 436.7,1718.9 438.6,1723.8 435,1736 428.9,1753 426.5,1762.8 431.3,1772.5 441.1,1783.5 439.9,1787.1 448.4,1789.5 454.5,1799.3 465.4,1811.5 477.6,1823.6 487.3,1838.2 497.1,1852.9 511.7,1863.8 516.6,1876 520.2,1884.5 521.4,1904 525.1,1915 531.2,1916.2 540.9,1912.5 550.6,1906.4 559.2,1901.6 564,1891.8 566.5,1883.3 562.8,1874.8 553.1,1868.7 553.1,1858.9 548.2,1846.8 540.9,1833.4 532.4,1824.9 526.3,1818.8 522.6,1821.2 522.6,1830.9 516.6,1834.6 515.3,1828.5 508,1824.9 503.2,1813.9 501.9,1799.3 508.8,1785.9 507.3,1777.4 500.7,1762.8 497.1,1750.6 495.9,1736 488.6,1729.9 484.4,1716.5 486.1,1699.4 487.3,1694.6 483.7,1675.1 483.7,1667.8 481.2,1655.6 470.3,1642.2 466.6,1643.4 464.2,1642.2 459.3,1633.7 461.8,1628.8 452,1619.1 449.6,1609.4 449.6,1597.2 M449.6,1595.8 438.6,1583.6 430.1,1569 432.5,1554.4 430.1,1544.6 431.3,1533.7 421.6,1525.2 419.2,1506.9 413.1,1504.5 409.4,1495.9 404.1,1494.7 403.3,1481.3 394.8,1460.6 385.1,1448.5 380.2,1438.7 370.5,1429 363.1,1415.6 360.7,1403.4 366.3,1383.9 366.8,1357.1 362.7,1342.5 369.2,1320.6 374.1,1310.9 371.7,1296.3 M371.7,1296.3 380.2,1307.2 387.5,1308.4 399.7,1321.8 407,1329.1 414.3,1330.4 419.2,1324.3 432.5,1336.4 431.3,1346.2 441.1,1351.1 450.8,1355.9 460.1,1362.5 458.1,1369.3 454.5,1369.3 453.2,1379.1 450.8,1391.2 456.9,1408.3 460.6,1425.3 460.1,1442.4 465.4,1457 472.2,1472.8 470.8,1482.5 477.6,1489.9 477.6,1505.7 487.3,1520.3 492.2,1532.5 498.3,1544.6 508,1551.9 514.1,1569 522.6,1582.4 532.4,1588.5 538.5,1588.5 553.1,1594.6 M547,1605.7 547,1621.5 551.9,1633.7 560.4,1642.2 577.4,1650.3 577.4,1660.5 582.3,1675.1 598.1,1677.5 609.1,1692.1 610.3,1704.3 614,1710.4 609.1,1708 601.8,1712.8 594.5,1721.4 593.3,1740.8 598.1,1749.4 609.1,1751.8 622.5,1745.7 616.4,1755.5 609.1,1759.1 624.9,1759.1 627.4,1767.6 640.7,1778.6 650.5,1787.1 663.9,1794.4 663.9,1798.8 656.6,1799.3 650.5,1793.2 655.4,1802.9 662.7,1813.9 661.4,1821.2 667.5,1829.7 679.7,1835.8 689,1835.8 689.4,1845.6 673.6,1835.8 708.9,1869.9 718.7,1884.5 727.2,1901.6 735.7,1913.7 743,1929.6 754,1941.7 M1445.5,1571.7 1415.6,1595.1 1403.9,1605.5 1368.8,1626.2 1345.5,1639.2 1323.4,1657.4 1307.8,1675.6 1297.4,1692.5 1289.6,1713.2 1289.1,1736.6 1293.5,1757.4 1299.5,1780.8 1301.3,1791.2 M1301.3,1791.2 1299.5,1809.4 1289.6,1830.1 1281.8,1845.7 1274,1871.7 1267.5,1897.7 1263.6,1923.6 1261.6,1943.1 M1400,1610.7 1412.2,1598.6 1420.3,1590.5 1436.5,1578.3 1446.7,1571.2 1460.9,1564.1 1473.1,1559 1483.2,1558 1495.4,1552.9 1517.7,1550.9 1529.9,1553.9 1546.1,1560 1562.3,1563.1 1574.5,1563.7 1583.6,1561 1580.6,1554.9 1583.6,1549.9 1592.8,1545.4 1597.8,1549.9 1606,1549.9 1611,1558 1617.1,1563.1 1625.2,1565.1 1629.3,1560 1631.3,1570.2 1636.4,1575.2 1627.3,1577.3 1641.5,1582.3 1657.7,1586.8 1663.8,1583.4 1667.9,1577.3 1676,1574.2 1683.1,1578.3 1688.1,1587.4 1694.2,1582.3 1696.3,1570.2 1694.2,1563.1 1689.2,1559 1700.3,1562 1706.4,1565.1 1710.5,1570.2 1716.6,1571.2 1726.7,1577.3 1734.8,1584.4 1734.8,1591.5 1740.9,1585.4 1747,1588.4 1749,1581.3 1754.7,1577.3 1745,1567.1 1732.8,1565.1 1718.6,1558 1713.5,1551.9 1720.6,1543.8 1728.7,1539.7 1732.8,1533.6 1728.7,1526.5 1721.6,1526.5 1718.6,1532.6 1710.5,1531.6 1706.4,1526.5 1713.5,1521.5 1724.7,1511.3 1730.8,1505.2 1740.9,1502.2 1753.1,1498.1 1765.3,1501.2 1779.5,1499.1 1794.7,1498.1 1796.7,1487 1799.8,1476.8 1804.8,1480.9 1807.9,1491 1814,1497.1 1816,1501.2 1824.1,1500.2 1830.2,1492 1831.2,1498.1 1846.4,1491 1848.5,1482.9 1856.6,1479.9 1857.6,1487 1846.4,1493.1 1872.8,1485.9 1883,1480.9 1900,1478.8 M1900.3,1479.3 1888.1,1480.3 1886.1,1487.4 1904.4,1490.4 1924.6,1497.5 1927.7,1490.4 1933.2,1488.4 1933.2,1497.5 1940.9,1505.7 1950,1511.8 1953.1,1517.8 1948,1523.9 1957.1,1521.9 1967.3,1519.9 1975.4,1519.9 1983.5,1511.8 1991.6,1505.7 2001.8,1502.6 2004.2,1499.6 2001.8,1495.5 2005.8,1491.5 2019,1487.8 2040.3,1496.5 2052.5,1507.7 2064.7,1521.9 2080.9,1532 2098.1,1542.2 2107.3,1552.3 2110.9,1576.7 2107.3,1603.1 2105.2,1619.3 2109.3,1625.4 2115.4,1626.4 2120.5,1619.3 2113.4,1611.2 2116.4,1608.1 2122.5,1614.2 2127.6,1611.2 2131.6,1615.2 2126.6,1627.4 2120.5,1638.6 2116.4,1640.6 2123.5,1647.7 2133.7,1661.9 2141.8,1672.1 2149.9,1677.1 2156,1676.1 2155,1669 2162.1,1667 2161,1678.1 M2163.3,1694.5 2156,1689.6 2157.2,1696.9 2165.7,1699.3 2169.3,1689.6 2175.3,1682.4 2170.5,1694.5 2175.3,1699.3 2181.3,1711.3 2191,1724.6 2200.6,1729.4 2210.2,1730.6 2216.3,1740.2 2225.9,1752.3 2233.1,1760.7 2240.4,1760.7 2241.6,1764.3 2233.1,1765.5 2228.3,1766.7 2233.1,1772.8 2242.8,1769.2 2252.4,1766.7 2262,1760.7 2271.7,1755.9 2277.7,1751.1 M2151.9,1390 2155,1393 2151.9,1398.1 2147.9,1399.1 2146.8,1418.4 2149.9,1428.6 2156,1440.7 2163.1,1459 2172.2,1479.3 2184.4,1499.6 2198.6,1519.9 2212.8,1536.1 2228,1557.4 2227,1566.5 2233.1,1582.8 2245.3,1601 2257.4,1623.4 2264.5,1637.6 2272.7,1651.8 2277.7,1670 2278.9,1684.8 2280.8,1718.6 2275.3,1733 2272.9,1745.1 2274.1,1752.3 2277.7,1751.1 M2148.4,1399.9 2153.5,1388.1 2157.5,1373.9 2155.5,1363.8 2159.6,1353.7 2166.7,1347.6 2166.7,1341.5 2171.8,1335.4 2176.2,1328.3 2169.7,1323.2 2166.7,1316.1 2173.8,1321.2 2181.9,1322.2 2184.9,1316.1 2179.9,1311 2174.8,1309 2188,1308 2196.1,1301.9 2206.2,1295.8 2210.3,1288.7 2207.3,1284.7 2214.4,1284.7 2223.5,1275.5 2223.5,1269.4 2232.6,1263.4 2239.7,1255.2 2240.7,1242 2245.8,1229.9 2249.9,1221.8 2262.1,1207.5 2271.2,1201.5 2291.5,1197.4 2295.5,1194.4 2295.5,1185.2 2300.6,1171 2313.8,1153.8 2310.8,1145.7 2317.9,1147.7 2325,1139.6 2344.2,1133.5 2354.4,1136.5 2359.5,1128.4 M2359.5,1128.4 2367.6,1114.2 2374.7,1102.1 2392.9,1089.9 2397.4,1081.8 2395,1063.5 2384.8,1049.3 2372.6,1033.1 2362.5,1016.8 2354.4,1004.7 2348.3,994.5 M2348.3,994.5 2347.3,980.3 M2347.3,980.3 2349.3,974.2 2352.4,962 2357.4,949.9 2361.5,929.6 2366.6,915.4 2370.6,901.2 2369.6,889 2364.5,880.9 2362.5,872.8 2365.5,861.6 M2366.6,861.6 2373.7,848.4 2377.7,834.2 2384.8,826.1 2385.8,820 M2385.8,820 2390,813.9 2393.1,803.8 2392,787.6 2390,771.3 2388,763.2 2379.9,760.2 2373.8,763.2 2371.8,756.1 2374.8,749 2381.9,745 M2382.9,738.9 2392,722.6 2404.2,711.5 2418.4,700.3 2420.5,697.3 2432.6,694.2 2442.8,689.1 2452.9,685.1 2465.1,680 2479.3,673.9 2482.3,667.8 2479.3,661.8 2481.3,649.6 2489.4,647.5 2490.5,659.7 2485.4,665.8 2495.5,661.8 2503.7,655.7 2511.8,645.5 2513.8,641.5 2515.8,651.6 2526,643.5 2538.1,635.4 2544.2,631.3 2542.2,623.2 2536.1,617.1 2528,613.1 2521.9,615.1 2526,620.2 2532.1,621.2 2533.1,631.3 2528,635.4 2517.9,635.4 2511.8,627.3 2505.7,625.2 2499.6,617.1 2493.5,612 2483.4,612 2489.4,596.8 2496.6,589.7 2491.5,586.7 2483.4,580.6 2483.4,566.4 2486.4,556.2 2488.4,546.1 2491.5,540 M2535,469.9 2532.8,475.4 2530.8,485.5 2524.7,489.6 2518.6,499.7 2510.5,497.7 2508.4,509.9 2498.3,511.9 2492.2,518 2494.2,525.1 2491.4,539.9 M2586.7,394.2 2593.8,399.3 2596.8,406.4 2603.9,409.4 2599.9,420.6 2591.8,422.6 2583.7,429.7 2581.6,433.8 2575.5,435.8 2571.5,443.9 2563.4,446 2555.2,450 2559.3,458.1 2551.2,462.2 2545.1,454.1 2537,452.1 2532.9,462.2 2535,469.9 M2684.1,316.1 2675,324.2 2670.9,334.4 2656.7,350.6 2642.5,364.8 2636.4,371.9 2630.3,370.9 2625.3,369.9 2630.3,361.8 2623.2,372.9 2618.1,383.1 2610,389.2 2601.9,393.2 2593.8,390.2 2586.7,394.2 M2823.1,296.8 2802.8,312 2788.6,328.3 2776.4,342.5 2762.2,354.7 2748,364.8 2741.9,366.8 2748,372.9 2737.9,377 2727.7,377 2725.7,385.1 2718.6,387.1 2723.7,395.2 2717.6,409.4 2711.5,423.7 2705.4,437.9 2697.3,446 2695.3,456.1 2685.1,462.2 2675,454.1 2664.8,456.1 2656.7,448 2652.6,435.8 2648.6,423.7 2652.6,407.4 2662.8,391.2 2666.9,381 2679,364.8 2689.2,350.6 2697.3,340.5 2705.4,338.4 2703.4,346.5 2715.6,354.7 2711.5,346.5 2723.7,332.3 2736.9,322.2 2727.7,323.2 2707.4,330.3 2693.2,338.4 2685.1,339.4 2679,346.5 2675,346.5 2679,332.3 2684.1,316.1 2672.9,310 2683.1,312 2691.2,303.9 2695.3,297.8 M2617.1,178.1 2614.1,186.2 2608,194.4 2599.9,203.5 2585.7,204.5 2572.5,202.5 2567.4,210.6 2553.2,215.7 2545.1,224.8 2559.3,217.7 2583.7,218.7 2593.8,227.8 2598.9,226.8 2603.9,217.7 2614.1,209.6 2628.3,207.5 2630.3,192.3 2632.4,190.3 2634.4,200.4 2632.4,210.6 2628.3,212.6 2630.3,230.9 2625.3,245.1 2620.2,256.2 2628.3,252.2 2638.4,250.2 2642.5,259.3 2650.6,269.4 2658.7,277.5 2664.8,287.7 2670.9,292.8 2687.1,287.7 2697.3,285.7 2701.3,287.7 2695.3,297.8 2711.5,299.9 2727.7,295.8 2746,291.8 2754.1,295.8 2764.3,289.7 2774.4,277.5 2780.5,269.4 2788.6,277.5 2802.8,273.5 2815,279.6 2823.1,284.7 M2468,178.1 2455.8,190.3 2451.8,200.4 2443.6,214.6 2437.5,230.9 2431.5,247.1 2426.4,257.3 2428.4,265.4 2425.4,283.6 2419.3,301.9 2413.2,316.1 2409.1,330.3 2401,342.5 M2508.6,178.1 2492.3,192.3 2480.2,204.5 2468,220.7 2459.9,232.9 2451.8,245.1 2443.6,259.3 2440.6,275.5 2435.5,291.8 2429.4,308 2423.3,324.2 2415.2,336.4 2407.1,344.5 2401,346.5 M2426.4,257.3 2399,253.2 2380.7,256.2 2371.6,256.2 M2381.9,753.1 2392,750 2404.2,745 2416.4,738.9 2428.6,729.7 2442.8,720.6 2452.9,713.5 2461,706.4 2470.2,697.3 2455,704.4 2440.7,714.5 2442.8,710.5 2450.9,696.2 2444.8,702.3 2436.7,709.4 2424.5,714.5 2414.4,720.6 2404.2,721.6 2392,729.7 2381.9,745 2381.9,753.1 M129.4,1089.6 135.5,1087.5 140.6,1095.7 149.7,1096.7 151.8,1101.8 144.7,1103.8 139.6,1098.7 129.4,1089.6 M156.8,1095.7 163.9,1096.7 175.1,1101.8 174.1,1105.8 161.9,1103.8 156.8,1095.7 M158.9,1148.4 164.9,1149.4 163.9,1153.5 159.9,1152.5 158.9,1148.4 M211.6,1151.5 219.7,1155.5 224.8,1164.7 216.7,1163.6 213.6,1156.5 211.6,1151.5 M203.5,1177.8 206.5,1177.8 213.6,1193.1 208.6,1193.1 204.5,1185 203.5,1177.8 M408.2,1454.5 414.3,1457 417.9,1470.4 426.5,1475.2 425.2,1492.3 416.7,1481.3 408.2,1464.3 408.2,1454.5 M463,1491.1 476.4,1489.9 477.6,1505.7 467.9,1520.3 455.7,1511.8 463,1491.1 M299.8,1506.9 304.2,1508.1 304.2,1520.3 299.4,1528.8 291.3,1522.2 298.6,1515.4 299.8,1506.9 M488.6,1715.3 494.6,1701.9 500.7,1700.7 498.3,1709.2 491,1714.1 488.6,1715.3 M509.3,1767.6 514.1,1770.1 517.8,1782.2 512.9,1779.8 509.3,1767.6 M547,1823.6 551.9,1837 548.2,1835.8 547,1823.6 M2672.9,237 2679,251.2 2683.1,259.3 2695.3,261.3 2707.4,258.3 2719.6,259.3 2733.8,252.2 2748,244.1 2764.3,239 2754.1,255.2 2748,263.3 2756.1,271.5 2748,275.5 2733.8,274.5 2727.7,264.4 2721.6,273.5 2707.4,275.5 2697.3,271.5 2693.2,267.4 2685.1,273.5 2679,267.4 2670.9,264.4 2664.8,263.3 2666.9,249.1 2672.9,237 M2804.8,180.1 2798.8,196.4 2794.7,220.7 2792.7,247.1 2798.8,261.3 2808.9,269.4 2823.1,267.4 2823.1,178.1 2804.8,180.1 M2334.3,1651.6 2350,1661.9 2370.5,1652.3 2395.8,1640.2 2394.6,1636.1 2363.3,1643.9 2354.8,1640.2 2356,1646.3 2350,1658.3 2334.3,1651.6 M2389.8,1625.8 2399.4,1621 2413.9,1620.2 2425.9,1627 2435.5,1634.2 2445.2,1634.2 2448.8,1648.7 2446.4,1665.5 2445.2,1680 2433.1,1674 2440.4,1665.5 2438,1643.9 2428.3,1630.6 2411.4,1624.6 2392.2,1628.2 2389.8,1625.8 M2398.4,1736 2401.5,1733.9 2411.7,1737 2415.7,1744.1 2424.9,1754.3 2434.1,1760.4 2437.2,1774.7 2422.9,1791.1 2413.7,1782.9 2411.7,1779.8 2399.4,1778.8 2392.9,1774.7 2401.5,1772.7 2399.4,1764.5 2403.5,1754.3 2402.5,1744.1 2398.4,1736 M2423.9,1793.1 2441.3,1786 2450.4,1792.1 2455.6,1803.3 2458.6,1811.5 2457.6,1820.7 2444.3,1822.7 2440.2,1813.5 2434.1,1805.4 2428,1799.2 2423.9,1793.1 M2727.1,1928.9 2736.3,1919.7 2748.5,1918.7 2757.7,1913.6 2761.8,1904.4 2765.9,1905.4 2765.9,1916.6 2760.8,1927.9 2748.5,1931.9 2733.2,1938.1 2728.1,1938.1 2727.1,1928.9 M2434.1,1910.5 2441.3,1909.1 2447.4,1914.6 2452.5,1916.6 2456.6,1921.7 2463.7,1923.8 2464.7,1926.8 2478,1926.8 2476,1937 2462.7,1934 2452.5,1925.8 2440.2,1916.6 2434.1,1910.5 M2103.6,1946.1 2114.9,1940.4 2131.2,1930.7 2147.4,1925 2166.9,1918.5 2183.1,1910.4 2197.7,1906.3 2212.3,1905.5 2228.6,1905.8 2239.9,1903.1 2247.2,1900.3 2248.9,1903.9 2253.7,1907.1 2262.7,1902.6 2274,1899.4 2283.8,1897.1 2291.1,1902.3 2303.2,1904.7 2317.9,1901.5 2329.2,1904.7 2330,1905.4 2342.2,1909.5 2352.5,1917.6 2364.7,1924.8 2377,1926.8 2393.3,1922.7 2409.6,1922.7 2426,1926.8 2444.3,1931.9 2460.7,1939.1 2472.9,1941.7 2477,1950.3 2103.6,1946.1 M234.7,179.8 244,187.8 256.2,198.1 270.3,208.4 278.7,215.4 282.5,212.9 286.2,212.9 289,215 292.3,212.2 291.8,198.1 291.4,179.8 M285.7,179.8 286,202.8 M288.6,179.8 288.8,207.5 M307.8,253.4 310.6,241.2 312.4,230 317.1,226.2 M312.4,263.7 315.3,250.6 317.1,241.2 318.1,230 M297.5,290.9 299.3,277.8 303.1,265.6 307.8,258.1 M303.1,291.8 305,280.6 308.7,269.3 M277.8,288.1 284.3,284.3 290,288.1 286.2,294.6 M141.6,489.7 150.7,487.7 M87.8,641.9 92.9,639.9 M346.1,1549.5 343.7,1556.8 351,1565.3 355.8,1565.3 352.2,1556.8 353.4,1548.3 M428.9,1737.2 420.4,1759.1 414.3,1767.6 420.4,1771.3 420.4,1779.8 424,1787.1 M427.7,1787.1 443.5,1802.9 M464.2,1645.9 469.1,1662.9 M1415.6,1591.2 1435.1,1580.8 M1331.2,1619.7 1335.1,1618.4 1339,1627.5 1345.5,1622.3 1368.8,1626.2 1354.5,1635.3 M1323.4,1637.9 1320.8,1650.9 1328.6,1644.4 1345.5,1641.8 M1302.6,1656.1 1315.6,1650.9 1310.4,1663.9 1302.6,1671.7 1287,1674.3 1293.5,1684.7 1307.8,1676.9 M1285.7,1705.5 1266.2,1697.7 1270.1,1710.6 1284.4,1713.2 1277.9,1730.1 1281.8,1752.2 1285.7,1767.8 1293.5,1780.8 1300,1788.6 M1671.9,1521.5 1676,1513.3 1681,1507.3 1688.1,1506.2 1698.3,1511.3 1706.4,1514.4 1716.6,1515.4 1706.4,1519.4 1696.3,1525.5 1686.1,1528.6 1678,1525.5 1671.9,1521.5 M1436.5,1578.3 1430.4,1578.3 1425.4,1568.1 1421.3,1558 1428.4,1554.9 1430.4,1560 1436.5,1554.9 1437.5,1562 1435.5,1568.1 1442.6,1567.1 1447.7,1570.2 M1480.2,1551.9 1485.2,1541.8 1490.3,1539.7 1489.3,1545.8 1484.2,1553.9 M1585.7,1560 1588.7,1558 1594.8,1557 1601.9,1562 1597.8,1568.1 1590.7,1564.1 1585.7,1560 M1757.1,1520.4 1761.2,1529.6 1759.2,1539.7 1755.1,1546.8 M1764.2,1507.3 1773.4,1510.3 M1785.6,1507.3 1797.7,1504.2 M1802.8,1505.2 1818,1502.2 M1412.2,1598.6 1428.4,1584.4 1436.5,1578.3 M1732.8,1519.4 1738.9,1516.4 1737.9,1523.5 M1886.1,1487.4 1892.2,1482.3 1904.4,1483.3 M1967.3,1519.9 1977.4,1513.8 1985.5,1516.8 1971.3,1527 1964.2,1526 M1947,1511.8 1950,1519.9 M2206.7,1543.2 2214.8,1562.5 2225,1576.7 2237.1,1595 2251.3,1617.3 2262.5,1633.5 M2209.7,1544.2 2218.9,1562.5 2228,1576.7 2240.2,1595 2253.4,1617.3 2263.5,1632.5 M2147.9,1410.3 2149.9,1426.5 M2264.5,1781.2 2277.7,1752.3 M2359.5,1128.4 2359.5,1115.2 2353.4,1114.2 2340.2,1120.3 2331,1121.3 2321.9,1112.2 2334.1,1117.2 2342.2,1112.2 2344.2,1104.1 2347.3,1100 M2367.6,1114.2 2356.4,1137.5 2345.3,1134.5 2359.5,1128.4 M2291.5,1181.2 2292.5,1195.4 M2235.7,1240 2238.7,1252.2 M2328,820 2331,830.1 2340.2,841.3 2354.4,845.4 2363.5,847.4 2366.6,861.6 M2326,826.1 2334.1,838.3 2342.2,852.5 2350.3,863.6 2362.5,872.8 M2274.2,887 2270.2,895.1 2264.1,907.3 2263.1,919.4 2268.1,923.9 2274.2,915.4 2280.3,916.4 2286.4,922.5 2303.7,924.5 2314.8,927.1 M2285.4,915.4 2293.5,917.4 2307.7,919.4 2313.8,922.5 M2290.5,901.2 2295.5,909.3 2303.7,913.3 2296.6,880.9 2291.5,872.8 2293.5,864.6 2286.4,861.6 2293.5,855.5 2299.6,848.4 2304.7,840.3 2310.8,836.2 2311.8,846.4 2306.7,852.5 2303.7,863.6 2306.7,874.8 2305.7,887 2322.9,893.1 2311.8,896.1 2311.8,903.2 2317.9,909.3 2326,911.3 2332.1,906.2 2334.1,917.4 2341.2,921.5 2344.2,930.6 2349.3,924.5 2346.3,933.6 2341.8,951.9 2342.2,972.2 2347.3,980.3 M2277.3,931.6 2289.4,939.7 2301.6,949.9 2313.8,953.9 2320.9,951.9 2321.9,940.7 2313.8,935.7 2297.6,932.6 2277.3,931.6 M2303.7,968.1 2313.8,976.2 2323.9,982.3 2331,988.4 2332.1,985.4 2321.9,976.2 2326,970.2 2330,971.2 2323.9,960 2320.9,951.9 M2281.3,983.4 2293.5,982.3 2311.8,983.4 2313.8,990.5 2325,1000.6 2331,998.6 2338.1,994.1 2348.3,994.5 M2321.9,1043.2 2325,1055.4 2329,1060.5 2338.1,1057.4 2340.2,1049.3 2348.3,1045.2 2350.3,1039.2 2344.2,1038.1 2352.4,1033.1 2362.5,1035.1 2369.6,1039.2 M2338.1,1057.4 2354.4,1053.4 2360.5,1056.4 2362.5,1068.6 2365.5,1065.5 2366.6,1053.4 2372.6,1049.3 2378.7,1053.4 2374.7,1069.6 2366.6,1083.8 2360.5,1089.9 2350.3,1089.9 2341.2,1083.8 2338.1,1089.9 2330,1091.9 2316.8,1088.9 M2330,1091.9 2344.2,1096 2347.3,1101 2343.2,1110.2 2338.1,1116.3 2321.9,1112.2 M2344.2,1116.3 2354.4,1114.2 2362.5,1119.9 M2354.4,1004.7 2358.4,1019.9 2368.6,1037.1 2380.8,1053.4 M2376.8,839.9 2381.9,832.2 2382.9,820 2385.8,820 M2390.4,787.6 2390.4,813.9 M2381.9,745 2382.9,730.7 2380.9,720.6 2373.8,712.5 M2337.3,809.9 2331.2,818 2328.1,828.1 2331.2,838.3 2339.3,842.4 M2339.3,807.9 2333.6,818.4 2330.8,828.1 2334.2,838.3 M2646.6,409.4 2643.5,431.8 M2658.7,389.2 2666.9,381 M2287.3,464.2 2301.5,463.2 2313.6,449 2323.8,447 2325.8,459.1 2313.6,467.3 2301.5,475.4 M2437.2,1736 2446.4,1731.9 2456.2,1733.5 2448.4,1739 2439.2,1740 2437.2,1736 M2626,1752.3 2630.1,1749.8 2634.2,1753.3 2632.1,1762.5 2627,1762.5 2626,1752.3"/>
<path class="c" style="stroke-width:7.5" d="M2401,344.5 2392.9,355.1 2380.7,365.2 2368.6,373.3 2358.4,383.1 2350.3,396.3 2340.1,407.4 2332,415.1 2323.9,421.6"/>
<path class="c" style="stroke-width:6" d="M2368.4,373.9 2356.2,389.1 2346.1,402.3 2333.9,413.5 2329.9,422.6 2325.8,436.8 2321.8,447 2313.6,461.2 2301.5,473.3 2283.2,500.7"/>
<path class="k" d="M297.5,207.5 301.2,205.6 303.1,210.3 306.8,218.7 309.6,220.6 308.7,214 305,207.5 M305.9,205.6 310.6,202.8 315.3,205.6 315.3,210.3 310.6,211.2 306.8,209.4 305.9,205.6 M297.5,200.9 299.3,201.9 M308.7,198.1 309.6,199 M309.6,182.2 315.3,184.1 314.3,186.9 310.6,185.9 309.6,182.2 M2510.8,665.8 2517.9,656.7 2525,658.7 2515.8,666.8 2510.8,665.8 M2537.1,661.8 2545.3,651.6 2551.3,657.7 2546.3,662.8 2537.1,661.8 M2814,243.1 2819,240 2819,255.2 2814,251.2 2814,243.1 M2742.9,183.2 2751.1,188.3 2750,193.3 2744,192.3 2742.9,183.2 M2610,408.4 2615.1,408.4 2615.7,416.6 2611.7,420 2610,408.4"/>
<path class="c" style="stroke-width:8" d="M2236.7,1800.5 2256,1790.8 M2219.9,1801.7 2225.9,1806.5 M2209.5,1808.2 2214.3,1812.5 M2198.9,1816.1 2204.7,1814.2 M2191.2,1940.9 2205.8,1938 2215.6,1936.9 2222.1,1937.2 2227.8,1940.9 M2347.1,1903.9 2358.4,1908 2368.2,1912 M2479,1693.5 2476.6,1702.9 2485.2,1700.2 2499.4,1705.3 2518.8,1713.5 2521.9,1729.8 2522.9,1740 2512.1,1734.9 2523.9,1743.7 M2548.4,1735.5 2554.6,1740 2566.8,1751.3 2582.1,1761.5 2569.3,1766.2 2572.9,1760.9 M2546.8,1802.9 2546.8,1807 2556.6,1809.4 2566.8,1813.5 2572.5,1811.5 2554.6,1803.7 2546.8,1802.9 M2587.6,1792.1 2591.3,1801.3 2601.5,1813.5 2607.6,1820.7 2601.5,1822.7 2615.8,1823.7 2624,1828.8 2629.1,1836.4 M2659.7,1828.2 2664.8,1836 2677.1,1837 2683.2,1831.9 2689.3,1828.2 2694.4,1841.1 2687.3,1852.3 2679.1,1864.6 2673.4,1870.3 M2734.2,1837 2735.2,1832.9 2748.5,1832.3 2761.8,1836 2758.7,1839.7 2746.5,1837 2735.2,1840.1 M2793.4,1858.8 2806.7,1857.6 2797.5,1864.2 2793.4,1858.8 M2810.2,1847.2 2824,1851.9 M2755.7,1892.1 2760.8,1887.4 2766.9,1890.1 2759.7,1896.2 2755.7,1892.1 M2347.4,1904.4 2367.8,1911.5 M2406.6,1910.5 2426,1905.4 2431.1,1909.5 2415.7,1912.5 2406.6,1910.5 M2482.1,1937.7 2495.4,1940.5 M1956.1,191.9 1965.3,181.6 1969.8,176.1 M1992.7,178.5 2004.8,189.8 2017.6,202.9"/>
</g>
<rect x="30.5" y="178.5" width="2790.0" height="1763.0" fill="none" stroke="#000" stroke-width="3"/>
<text x="1425.5" y="79.5" font-size="66.67" text-anchor="middle">Sliding Mean Hit Rate (Below Normal): NOAA</text>
<text x="1425.5" y="153.5" font-size="66.67" text-anchor="middle">Variable: PRAVG, Season: FMA, Start: 0908</text>
<g shape-rendering="crispEdges">
<rect x="2994.3" y="1597.8" width="74.0" height="135.0" fill="#053061"/>
<rect x="2994.3" y="1463.4" width="74.0" height="135.0" fill="#246aae"/>
<rect x="2994.3" y="1329.0" width="74.0" height="135.0" fill="#529dc8"/>
<rect x="2994.3" y="1194.6" width="74.0" height="135.0" fill="#a7d0e4"/>
<rect x="2994.3" y="1060.3" width="74.0" height="135.0" fill="#e1edf3"/>
<rect x="2994.3" y="925.9" width="74.0" height="135.0" fill="#fae8de"/>
<rect x="2994.3" y="791.5" width="74.0" height="135.0" fill="#f7b799"/>
<rect x="2994.3" y="657.1" width="74.0" height="135.0" fill="#dd7059"/>
<rect x="2994.3" y="522.7" width="74.0" height="135.0" fill="#b72230"/>
<rect x="2994.3" y="388.3" width="74.0" height="135.0" fill="#67001f"/>
</g>
<path d="M2994.3,389.1 L3031.3,321.6 L3068.3,389.1 Z" fill="#67001f"/>
<path d="M2994.3,1732.0 L3031.3,1799.5 L3068.3,1732.0 Z" fill="#053061"/>
<path d="M2994.3,388.6 L3031.3,321.6 L3068.3,388.6 L3068.3,1732.5 L3031.3,1799.5 L2994.3,1732.5 Z" fill="none" stroke="#000" stroke-width="3.33" stroke-linejoin="miter"/>
<path d="M3068.3,1732.5 h14.6" stroke="#000" stroke-width="3.33"/>
<text x="3097.9" y="1747.0" font-size="41.67">0.0</text>
<path d="M3068.3,1598.1 h14.6" stroke="#000" stroke-width="3.33"/>
<text x="3097.9" y="1612.6" font-size="41.67">0.1</text>
<path d="M3068.3,1463.7 h14.6" stroke="#000" stroke-width="3.33"/>
<text x="3097.9" y="1478.2" font-size="41.67">0.2</text>
<path d="M3068.3,1329.3 h14.6" stroke="#000" stroke-width="3.33"/>
<text x="3097.9" y="1343.8" font-size="41.67">0.3</text>
<path d="M3068.3,1194.9 h14.6" stroke="#000" stroke-width="3.33"/>
<text x="3097.9" y="1209.4" font-size="41.67">0.4</text>
<path d="M3068.3,1060.6 h14.6" stroke="#000" stroke-width="3.33"/>
<text x="3097.9" y="1075.1" font-size="41.67">0.5</text>
<path d="M3068.3,926.2 h14.6" stroke="#000" stroke-width="3.33"/>
<text x="3097.9" y="940.7" font-size="41.67">0.6</text>
<path d="M3068.3,791.8 h14.6" stroke="#000" stroke-width="3.33"/>
<text x="3097.9" y="806.3" font-size="41.67">0.7</text>
<path d="M3068.3,657.4 h14.6" stroke="#000" stroke-width="3.33"/>
<text x="3097.9" y="671.9" font-size="41.67">0.8</text>
<path d="M3068.3,523.0 h14.6" stroke="#000" stroke-width="3.33"/>
<text x="3097.9" y="537.5" font-size="41.67">0.9</text>
<path d="M3068.3,388.6 h14.6" stroke="#000" stroke-width="3.33"/>
<text x="3097.9" y="403.1" font-size="41.67">1.0</text>
<text transform="translate(3210.5,1062) rotate(-90)" font-size="41.67" text-anchor="middle">Hit Rate</text>
</svg></body></html>
